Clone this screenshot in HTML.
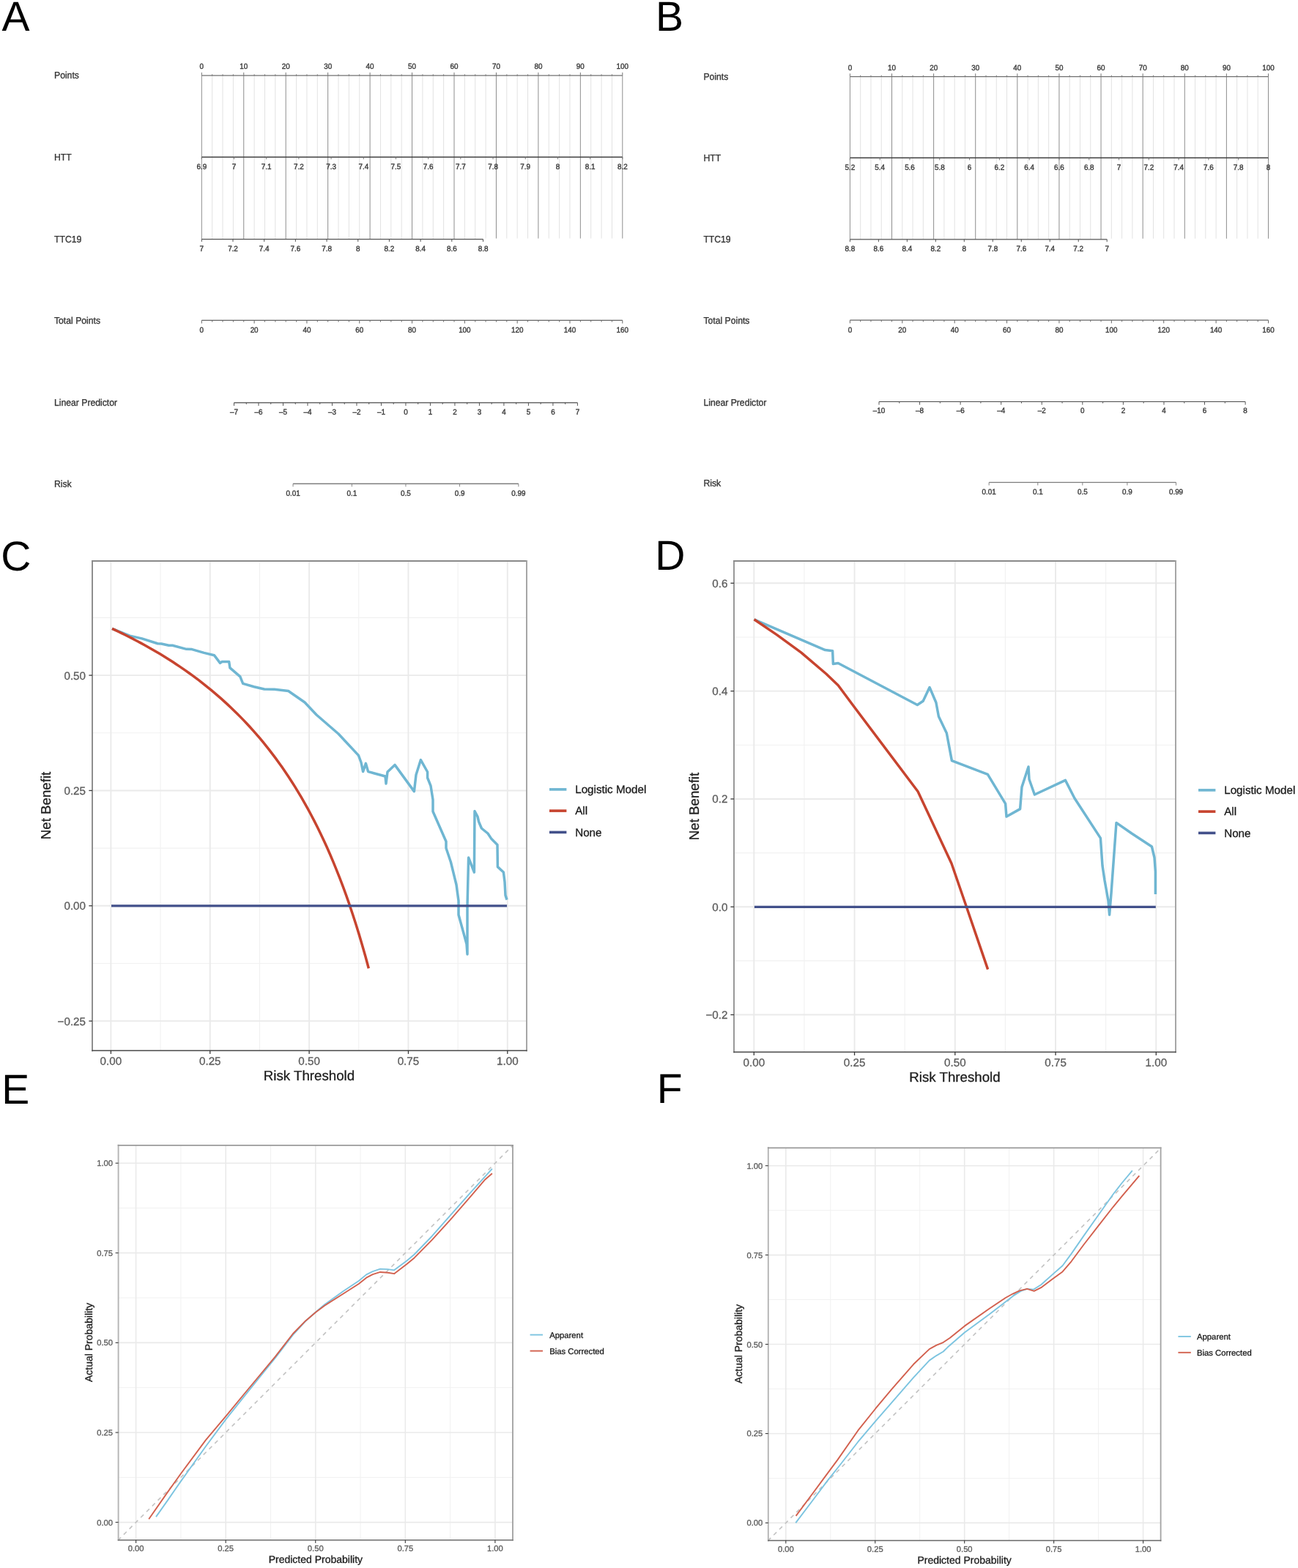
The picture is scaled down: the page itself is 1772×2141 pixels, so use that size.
<!DOCTYPE html>
<html lang="en">
<head>
<meta charset="utf-8">
<title>Nomogram, decision curve and calibration figure</title>
<style>
html,body{margin:0;padding:0;background:#fff;}
body{width:1772px;height:2141px;overflow:hidden;font-family:"Liberation Sans", Arial, Helvetica, sans-serif;}
svg{display:block;}
svg text{text-rendering:geometricPrecision;font-family:"Liberation Sans", Arial, Helvetica, sans-serif;}
</style>
</head>
<body>
<svg width="1772" height="2141" viewBox="0 0 1772 2141" font-family='"Liberation Sans", Arial, Helvetica, sans-serif'>
<rect width="1772" height="2141" fill="#fff"/>
<g id="panel-a">
<line x1="275.3" y1="103.2" x2="275.3" y2="326.6" stroke="#8e8e8e" stroke-width="1"/>
<line x1="289.66" y1="103.2" x2="289.66" y2="326.6" stroke="#e2e2e2" stroke-width="1"/>
<line x1="304.03" y1="103.2" x2="304.03" y2="326.6" stroke="#e2e2e2" stroke-width="1"/>
<line x1="318.39" y1="103.2" x2="318.39" y2="326.6" stroke="#e2e2e2" stroke-width="1"/>
<line x1="332.75" y1="103.2" x2="332.75" y2="326.6" stroke="#8e8e8e" stroke-width="1"/>
<line x1="347.11" y1="103.2" x2="347.11" y2="326.6" stroke="#e2e2e2" stroke-width="1"/>
<line x1="361.48" y1="103.2" x2="361.48" y2="326.6" stroke="#e2e2e2" stroke-width="1"/>
<line x1="375.84" y1="103.2" x2="375.84" y2="326.6" stroke="#e2e2e2" stroke-width="1"/>
<line x1="390.2" y1="103.2" x2="390.2" y2="326.6" stroke="#8e8e8e" stroke-width="1"/>
<line x1="404.56" y1="103.2" x2="404.56" y2="326.6" stroke="#e2e2e2" stroke-width="1"/>
<line x1="418.93" y1="103.2" x2="418.93" y2="326.6" stroke="#e2e2e2" stroke-width="1"/>
<line x1="433.29" y1="103.2" x2="433.29" y2="326.6" stroke="#e2e2e2" stroke-width="1"/>
<line x1="447.65" y1="103.2" x2="447.65" y2="326.6" stroke="#8e8e8e" stroke-width="1"/>
<line x1="462.01" y1="103.2" x2="462.01" y2="326.6" stroke="#e2e2e2" stroke-width="1"/>
<line x1="476.38" y1="103.2" x2="476.38" y2="326.6" stroke="#e2e2e2" stroke-width="1"/>
<line x1="490.74" y1="103.2" x2="490.74" y2="326.6" stroke="#e2e2e2" stroke-width="1"/>
<line x1="505.1" y1="103.2" x2="505.1" y2="326.6" stroke="#8e8e8e" stroke-width="1"/>
<line x1="519.46" y1="103.2" x2="519.46" y2="326.6" stroke="#e2e2e2" stroke-width="1"/>
<line x1="533.83" y1="103.2" x2="533.83" y2="326.6" stroke="#e2e2e2" stroke-width="1"/>
<line x1="548.19" y1="103.2" x2="548.19" y2="326.6" stroke="#e2e2e2" stroke-width="1"/>
<line x1="562.55" y1="103.2" x2="562.55" y2="326.6" stroke="#8e8e8e" stroke-width="1"/>
<line x1="576.91" y1="103.2" x2="576.91" y2="326.6" stroke="#e2e2e2" stroke-width="1"/>
<line x1="591.28" y1="103.2" x2="591.28" y2="326.6" stroke="#e2e2e2" stroke-width="1"/>
<line x1="605.64" y1="103.2" x2="605.64" y2="326.6" stroke="#e2e2e2" stroke-width="1"/>
<line x1="620" y1="103.2" x2="620" y2="326.6" stroke="#8e8e8e" stroke-width="1"/>
<line x1="634.36" y1="103.2" x2="634.36" y2="326.6" stroke="#e2e2e2" stroke-width="1"/>
<line x1="648.73" y1="103.2" x2="648.73" y2="326.6" stroke="#e2e2e2" stroke-width="1"/>
<line x1="663.09" y1="103.2" x2="663.09" y2="325.6" stroke="#e2e2e2" stroke-width="1"/>
<line x1="677.45" y1="103.2" x2="677.45" y2="325.6" stroke="#8e8e8e" stroke-width="1"/>
<line x1="691.81" y1="103.2" x2="691.81" y2="325.6" stroke="#e2e2e2" stroke-width="1"/>
<line x1="706.17" y1="103.2" x2="706.17" y2="325.6" stroke="#e2e2e2" stroke-width="1"/>
<line x1="720.54" y1="103.2" x2="720.54" y2="325.6" stroke="#e2e2e2" stroke-width="1"/>
<line x1="734.9" y1="103.2" x2="734.9" y2="325.6" stroke="#8e8e8e" stroke-width="1"/>
<line x1="749.26" y1="103.2" x2="749.26" y2="325.6" stroke="#e2e2e2" stroke-width="1"/>
<line x1="763.62" y1="103.2" x2="763.62" y2="325.6" stroke="#e2e2e2" stroke-width="1"/>
<line x1="777.99" y1="103.2" x2="777.99" y2="325.6" stroke="#e2e2e2" stroke-width="1"/>
<line x1="792.35" y1="103.2" x2="792.35" y2="325.6" stroke="#8e8e8e" stroke-width="1"/>
<line x1="806.71" y1="103.2" x2="806.71" y2="325.6" stroke="#e2e2e2" stroke-width="1"/>
<line x1="821.08" y1="103.2" x2="821.08" y2="325.6" stroke="#e2e2e2" stroke-width="1"/>
<line x1="835.44" y1="103.2" x2="835.44" y2="325.6" stroke="#e2e2e2" stroke-width="1"/>
<line x1="849.8" y1="103.2" x2="849.8" y2="325.6" stroke="#8e8e8e" stroke-width="1"/>
<text transform="translate(74 107.4) scale(1 1.06)" font-size="12.2" fill="#383838" text-anchor="start" stroke="#383838" stroke-width="0.35">Points</text>
<text transform="translate(74 218.6) scale(1 1.06)" font-size="12.2" fill="#383838" text-anchor="start" stroke="#383838" stroke-width="0.35">HTT</text>
<text transform="translate(74 330.8) scale(1 1.06)" font-size="12.2" fill="#383838" text-anchor="start" stroke="#383838" stroke-width="0.35">TTC19</text>
<text transform="translate(74 441.6) scale(1 1.06)" font-size="12.2" fill="#383838" text-anchor="start" stroke="#383838" stroke-width="0.35">Total Points</text>
<text transform="translate(74 553.8) scale(1 1.06)" font-size="12.2" fill="#383838" text-anchor="start" stroke="#383838" stroke-width="0.35">Linear Predictor</text>
<text transform="translate(74 665) scale(1 1.06)" font-size="12.2" fill="#383838" text-anchor="start" stroke="#383838" stroke-width="0.35">Risk</text>
<line x1="275.3" y1="103.2" x2="849.8" y2="103.2" stroke="#707070" stroke-width="1.3"/>
<line x1="275.3" y1="103.2" x2="275.3" y2="99" stroke="#777" stroke-width="1"/>
<text transform="translate(275.3 93.9) scale(1 1.06)" font-size="9.9" fill="#383838" text-anchor="middle" stroke="#383838" stroke-width="0.35">0</text>
<line x1="289.66" y1="103.2" x2="289.66" y2="101.4" stroke="#777" stroke-width="1"/>
<line x1="304.03" y1="103.2" x2="304.03" y2="101.4" stroke="#777" stroke-width="1"/>
<line x1="318.39" y1="103.2" x2="318.39" y2="101.4" stroke="#777" stroke-width="1"/>
<line x1="332.75" y1="103.2" x2="332.75" y2="99" stroke="#777" stroke-width="1"/>
<text transform="translate(332.75 93.9) scale(1 1.06)" font-size="9.9" fill="#383838" text-anchor="middle" stroke="#383838" stroke-width="0.35">10</text>
<line x1="347.11" y1="103.2" x2="347.11" y2="101.4" stroke="#777" stroke-width="1"/>
<line x1="361.48" y1="103.2" x2="361.48" y2="101.4" stroke="#777" stroke-width="1"/>
<line x1="375.84" y1="103.2" x2="375.84" y2="101.4" stroke="#777" stroke-width="1"/>
<line x1="390.2" y1="103.2" x2="390.2" y2="99" stroke="#777" stroke-width="1"/>
<text transform="translate(390.2 93.9) scale(1 1.06)" font-size="9.9" fill="#383838" text-anchor="middle" stroke="#383838" stroke-width="0.35">20</text>
<line x1="404.56" y1="103.2" x2="404.56" y2="101.4" stroke="#777" stroke-width="1"/>
<line x1="418.93" y1="103.2" x2="418.93" y2="101.4" stroke="#777" stroke-width="1"/>
<line x1="433.29" y1="103.2" x2="433.29" y2="101.4" stroke="#777" stroke-width="1"/>
<line x1="447.65" y1="103.2" x2="447.65" y2="99" stroke="#777" stroke-width="1"/>
<text transform="translate(447.65 93.9) scale(1 1.06)" font-size="9.9" fill="#383838" text-anchor="middle" stroke="#383838" stroke-width="0.35">30</text>
<line x1="462.01" y1="103.2" x2="462.01" y2="101.4" stroke="#777" stroke-width="1"/>
<line x1="476.38" y1="103.2" x2="476.38" y2="101.4" stroke="#777" stroke-width="1"/>
<line x1="490.74" y1="103.2" x2="490.74" y2="101.4" stroke="#777" stroke-width="1"/>
<line x1="505.1" y1="103.2" x2="505.1" y2="99" stroke="#777" stroke-width="1"/>
<text transform="translate(505.1 93.9) scale(1 1.06)" font-size="9.9" fill="#383838" text-anchor="middle" stroke="#383838" stroke-width="0.35">40</text>
<line x1="519.46" y1="103.2" x2="519.46" y2="101.4" stroke="#777" stroke-width="1"/>
<line x1="533.83" y1="103.2" x2="533.83" y2="101.4" stroke="#777" stroke-width="1"/>
<line x1="548.19" y1="103.2" x2="548.19" y2="101.4" stroke="#777" stroke-width="1"/>
<line x1="562.55" y1="103.2" x2="562.55" y2="99" stroke="#777" stroke-width="1"/>
<text transform="translate(562.55 93.9) scale(1 1.06)" font-size="9.9" fill="#383838" text-anchor="middle" stroke="#383838" stroke-width="0.35">50</text>
<line x1="576.91" y1="103.2" x2="576.91" y2="101.4" stroke="#777" stroke-width="1"/>
<line x1="591.28" y1="103.2" x2="591.28" y2="101.4" stroke="#777" stroke-width="1"/>
<line x1="605.64" y1="103.2" x2="605.64" y2="101.4" stroke="#777" stroke-width="1"/>
<line x1="620" y1="103.2" x2="620" y2="99" stroke="#777" stroke-width="1"/>
<text transform="translate(620 93.9) scale(1 1.06)" font-size="9.9" fill="#383838" text-anchor="middle" stroke="#383838" stroke-width="0.35">60</text>
<line x1="634.36" y1="103.2" x2="634.36" y2="101.4" stroke="#777" stroke-width="1"/>
<line x1="648.73" y1="103.2" x2="648.73" y2="101.4" stroke="#777" stroke-width="1"/>
<line x1="663.09" y1="103.2" x2="663.09" y2="101.4" stroke="#777" stroke-width="1"/>
<line x1="677.45" y1="103.2" x2="677.45" y2="99" stroke="#777" stroke-width="1"/>
<text transform="translate(677.45 93.9) scale(1 1.06)" font-size="9.9" fill="#383838" text-anchor="middle" stroke="#383838" stroke-width="0.35">70</text>
<line x1="691.81" y1="103.2" x2="691.81" y2="101.4" stroke="#777" stroke-width="1"/>
<line x1="706.17" y1="103.2" x2="706.17" y2="101.4" stroke="#777" stroke-width="1"/>
<line x1="720.54" y1="103.2" x2="720.54" y2="101.4" stroke="#777" stroke-width="1"/>
<line x1="734.9" y1="103.2" x2="734.9" y2="99" stroke="#777" stroke-width="1"/>
<text transform="translate(734.9 93.9) scale(1 1.06)" font-size="9.9" fill="#383838" text-anchor="middle" stroke="#383838" stroke-width="0.35">80</text>
<line x1="749.26" y1="103.2" x2="749.26" y2="101.4" stroke="#777" stroke-width="1"/>
<line x1="763.62" y1="103.2" x2="763.62" y2="101.4" stroke="#777" stroke-width="1"/>
<line x1="777.99" y1="103.2" x2="777.99" y2="101.4" stroke="#777" stroke-width="1"/>
<line x1="792.35" y1="103.2" x2="792.35" y2="99" stroke="#777" stroke-width="1"/>
<text transform="translate(792.35 93.9) scale(1 1.06)" font-size="9.9" fill="#383838" text-anchor="middle" stroke="#383838" stroke-width="0.35">90</text>
<line x1="806.71" y1="103.2" x2="806.71" y2="101.4" stroke="#777" stroke-width="1"/>
<line x1="821.08" y1="103.2" x2="821.08" y2="101.4" stroke="#777" stroke-width="1"/>
<line x1="835.44" y1="103.2" x2="835.44" y2="101.4" stroke="#777" stroke-width="1"/>
<line x1="849.8" y1="103.2" x2="849.8" y2="99" stroke="#777" stroke-width="1"/>
<text transform="translate(849.8 93.9) scale(1 1.06)" font-size="9.9" fill="#383838" text-anchor="middle" stroke="#383838" stroke-width="0.35">100</text>
<line x1="275.3" y1="214.4" x2="849.8" y2="214.4" stroke="#3c3c3c" stroke-width="1.5"/>
<line x1="275.3" y1="214.4" x2="275.3" y2="217.4" stroke="#777" stroke-width="1"/>
<text transform="translate(275.3 230.6) scale(1 1.06)" font-size="9.9" fill="#383838" text-anchor="middle" stroke="#383838" stroke-width="0.35">6.9</text>
<line x1="319.49" y1="214.4" x2="319.49" y2="217.4" stroke="#777" stroke-width="1"/>
<text transform="translate(319.49 230.6) scale(1 1.06)" font-size="9.9" fill="#383838" text-anchor="middle" stroke="#383838" stroke-width="0.35">7</text>
<line x1="363.68" y1="214.4" x2="363.68" y2="217.4" stroke="#777" stroke-width="1"/>
<text transform="translate(363.68 230.6) scale(1 1.06)" font-size="9.9" fill="#383838" text-anchor="middle" stroke="#383838" stroke-width="0.35">7.1</text>
<line x1="407.88" y1="214.4" x2="407.88" y2="217.4" stroke="#777" stroke-width="1"/>
<text transform="translate(407.88 230.6) scale(1 1.06)" font-size="9.9" fill="#383838" text-anchor="middle" stroke="#383838" stroke-width="0.35">7.2</text>
<line x1="452.07" y1="214.4" x2="452.07" y2="217.4" stroke="#777" stroke-width="1"/>
<text transform="translate(452.07 230.6) scale(1 1.06)" font-size="9.9" fill="#383838" text-anchor="middle" stroke="#383838" stroke-width="0.35">7.3</text>
<line x1="496.26" y1="214.4" x2="496.26" y2="217.4" stroke="#777" stroke-width="1"/>
<text transform="translate(496.26 230.6) scale(1 1.06)" font-size="9.9" fill="#383838" text-anchor="middle" stroke="#383838" stroke-width="0.35">7.4</text>
<line x1="540.45" y1="214.4" x2="540.45" y2="217.4" stroke="#777" stroke-width="1"/>
<text transform="translate(540.45 230.6) scale(1 1.06)" font-size="9.9" fill="#383838" text-anchor="middle" stroke="#383838" stroke-width="0.35">7.5</text>
<line x1="584.65" y1="214.4" x2="584.65" y2="217.4" stroke="#777" stroke-width="1"/>
<text transform="translate(584.65 230.6) scale(1 1.06)" font-size="9.9" fill="#383838" text-anchor="middle" stroke="#383838" stroke-width="0.35">7.6</text>
<line x1="628.84" y1="214.4" x2="628.84" y2="217.4" stroke="#777" stroke-width="1"/>
<text transform="translate(628.84 230.6) scale(1 1.06)" font-size="9.9" fill="#383838" text-anchor="middle" stroke="#383838" stroke-width="0.35">7.7</text>
<line x1="673.03" y1="214.4" x2="673.03" y2="217.4" stroke="#777" stroke-width="1"/>
<text transform="translate(673.03 230.6) scale(1 1.06)" font-size="9.9" fill="#383838" text-anchor="middle" stroke="#383838" stroke-width="0.35">7.8</text>
<line x1="717.22" y1="214.4" x2="717.22" y2="217.4" stroke="#777" stroke-width="1"/>
<text transform="translate(717.22 230.6) scale(1 1.06)" font-size="9.9" fill="#383838" text-anchor="middle" stroke="#383838" stroke-width="0.35">7.9</text>
<line x1="761.42" y1="214.4" x2="761.42" y2="217.4" stroke="#777" stroke-width="1"/>
<text transform="translate(761.42 230.6) scale(1 1.06)" font-size="9.9" fill="#383838" text-anchor="middle" stroke="#383838" stroke-width="0.35">8</text>
<line x1="805.61" y1="214.4" x2="805.61" y2="217.4" stroke="#777" stroke-width="1"/>
<text transform="translate(805.61 230.6) scale(1 1.06)" font-size="9.9" fill="#383838" text-anchor="middle" stroke="#383838" stroke-width="0.35">8.1</text>
<line x1="849.8" y1="214.4" x2="849.8" y2="217.4" stroke="#777" stroke-width="1"/>
<text transform="translate(849.8 230.6) scale(1 1.06)" font-size="9.9" fill="#383838" text-anchor="middle" stroke="#383838" stroke-width="0.35">8.2</text>
<line x1="275.3" y1="326.6" x2="659.5" y2="326.6" stroke="#555" stroke-width="1.2"/>
<line x1="275.3" y1="326.6" x2="275.3" y2="330.1" stroke="#555" stroke-width="1"/>
<text transform="translate(275.3 342.8) scale(1 1.06)" font-size="9.9" fill="#383838" text-anchor="middle" stroke="#383838" stroke-width="0.35">7</text>
<line x1="317.99" y1="326.6" x2="317.99" y2="330.1" stroke="#555" stroke-width="1"/>
<text transform="translate(317.99 342.8) scale(1 1.06)" font-size="9.9" fill="#383838" text-anchor="middle" stroke="#383838" stroke-width="0.35">7.2</text>
<line x1="360.68" y1="326.6" x2="360.68" y2="330.1" stroke="#555" stroke-width="1"/>
<text transform="translate(360.68 342.8) scale(1 1.06)" font-size="9.9" fill="#383838" text-anchor="middle" stroke="#383838" stroke-width="0.35">7.4</text>
<line x1="403.37" y1="326.6" x2="403.37" y2="330.1" stroke="#555" stroke-width="1"/>
<text transform="translate(403.37 342.8) scale(1 1.06)" font-size="9.9" fill="#383838" text-anchor="middle" stroke="#383838" stroke-width="0.35">7.6</text>
<line x1="446.06" y1="326.6" x2="446.06" y2="330.1" stroke="#555" stroke-width="1"/>
<text transform="translate(446.06 342.8) scale(1 1.06)" font-size="9.9" fill="#383838" text-anchor="middle" stroke="#383838" stroke-width="0.35">7.8</text>
<line x1="488.74" y1="326.6" x2="488.74" y2="330.1" stroke="#555" stroke-width="1"/>
<text transform="translate(488.74 342.8) scale(1 1.06)" font-size="9.9" fill="#383838" text-anchor="middle" stroke="#383838" stroke-width="0.35">8</text>
<line x1="531.43" y1="326.6" x2="531.43" y2="330.1" stroke="#555" stroke-width="1"/>
<text transform="translate(531.43 342.8) scale(1 1.06)" font-size="9.9" fill="#383838" text-anchor="middle" stroke="#383838" stroke-width="0.35">8.2</text>
<line x1="574.12" y1="326.6" x2="574.12" y2="330.1" stroke="#555" stroke-width="1"/>
<text transform="translate(574.12 342.8) scale(1 1.06)" font-size="9.9" fill="#383838" text-anchor="middle" stroke="#383838" stroke-width="0.35">8.4</text>
<line x1="616.81" y1="326.6" x2="616.81" y2="330.1" stroke="#555" stroke-width="1"/>
<text transform="translate(616.81 342.8) scale(1 1.06)" font-size="9.9" fill="#383838" text-anchor="middle" stroke="#383838" stroke-width="0.35">8.6</text>
<line x1="659.5" y1="326.6" x2="659.5" y2="330.1" stroke="#555" stroke-width="1"/>
<text transform="translate(659.5 342.8) scale(1 1.06)" font-size="9.9" fill="#383838" text-anchor="middle" stroke="#383838" stroke-width="0.35">8.8</text>
<line x1="275.3" y1="437.4" x2="849.8" y2="437.4" stroke="#666" stroke-width="1.2"/>
<line x1="275.3" y1="437.4" x2="275.3" y2="441.6" stroke="#666" stroke-width="1"/>
<text transform="translate(275.3 454.4) scale(1 1.06)" font-size="9.9" fill="#383838" text-anchor="middle" stroke="#383838" stroke-width="0.35">0</text>
<line x1="289.66" y1="437.4" x2="289.66" y2="439.6" stroke="#666" stroke-width="1"/>
<line x1="304.03" y1="437.4" x2="304.03" y2="439.6" stroke="#666" stroke-width="1"/>
<line x1="318.39" y1="437.4" x2="318.39" y2="439.6" stroke="#666" stroke-width="1"/>
<line x1="332.75" y1="437.4" x2="332.75" y2="439.6" stroke="#666" stroke-width="1"/>
<line x1="347.11" y1="437.4" x2="347.11" y2="441.6" stroke="#666" stroke-width="1"/>
<text transform="translate(347.11 454.4) scale(1 1.06)" font-size="9.9" fill="#383838" text-anchor="middle" stroke="#383838" stroke-width="0.35">20</text>
<line x1="361.48" y1="437.4" x2="361.48" y2="439.6" stroke="#666" stroke-width="1"/>
<line x1="375.84" y1="437.4" x2="375.84" y2="439.6" stroke="#666" stroke-width="1"/>
<line x1="390.2" y1="437.4" x2="390.2" y2="439.6" stroke="#666" stroke-width="1"/>
<line x1="404.56" y1="437.4" x2="404.56" y2="439.6" stroke="#666" stroke-width="1"/>
<line x1="418.93" y1="437.4" x2="418.93" y2="441.6" stroke="#666" stroke-width="1"/>
<text transform="translate(418.93 454.4) scale(1 1.06)" font-size="9.9" fill="#383838" text-anchor="middle" stroke="#383838" stroke-width="0.35">40</text>
<line x1="433.29" y1="437.4" x2="433.29" y2="439.6" stroke="#666" stroke-width="1"/>
<line x1="447.65" y1="437.4" x2="447.65" y2="439.6" stroke="#666" stroke-width="1"/>
<line x1="462.01" y1="437.4" x2="462.01" y2="439.6" stroke="#666" stroke-width="1"/>
<line x1="476.38" y1="437.4" x2="476.38" y2="439.6" stroke="#666" stroke-width="1"/>
<line x1="490.74" y1="437.4" x2="490.74" y2="441.6" stroke="#666" stroke-width="1"/>
<text transform="translate(490.74 454.4) scale(1 1.06)" font-size="9.9" fill="#383838" text-anchor="middle" stroke="#383838" stroke-width="0.35">60</text>
<line x1="505.1" y1="437.4" x2="505.1" y2="439.6" stroke="#666" stroke-width="1"/>
<line x1="519.46" y1="437.4" x2="519.46" y2="439.6" stroke="#666" stroke-width="1"/>
<line x1="533.83" y1="437.4" x2="533.83" y2="439.6" stroke="#666" stroke-width="1"/>
<line x1="548.19" y1="437.4" x2="548.19" y2="439.6" stroke="#666" stroke-width="1"/>
<line x1="562.55" y1="437.4" x2="562.55" y2="441.6" stroke="#666" stroke-width="1"/>
<text transform="translate(562.55 454.4) scale(1 1.06)" font-size="9.9" fill="#383838" text-anchor="middle" stroke="#383838" stroke-width="0.35">80</text>
<line x1="576.91" y1="437.4" x2="576.91" y2="439.6" stroke="#666" stroke-width="1"/>
<line x1="591.28" y1="437.4" x2="591.28" y2="439.6" stroke="#666" stroke-width="1"/>
<line x1="605.64" y1="437.4" x2="605.64" y2="439.6" stroke="#666" stroke-width="1"/>
<line x1="620" y1="437.4" x2="620" y2="439.6" stroke="#666" stroke-width="1"/>
<line x1="634.36" y1="437.4" x2="634.36" y2="441.6" stroke="#666" stroke-width="1"/>
<text transform="translate(634.36 454.4) scale(1 1.06)" font-size="9.9" fill="#383838" text-anchor="middle" stroke="#383838" stroke-width="0.35">100</text>
<line x1="648.73" y1="437.4" x2="648.73" y2="439.6" stroke="#666" stroke-width="1"/>
<line x1="663.09" y1="437.4" x2="663.09" y2="439.6" stroke="#666" stroke-width="1"/>
<line x1="677.45" y1="437.4" x2="677.45" y2="439.6" stroke="#666" stroke-width="1"/>
<line x1="691.81" y1="437.4" x2="691.81" y2="439.6" stroke="#666" stroke-width="1"/>
<line x1="706.17" y1="437.4" x2="706.17" y2="441.6" stroke="#666" stroke-width="1"/>
<text transform="translate(706.17 454.4) scale(1 1.06)" font-size="9.9" fill="#383838" text-anchor="middle" stroke="#383838" stroke-width="0.35">120</text>
<line x1="720.54" y1="437.4" x2="720.54" y2="439.6" stroke="#666" stroke-width="1"/>
<line x1="734.9" y1="437.4" x2="734.9" y2="439.6" stroke="#666" stroke-width="1"/>
<line x1="749.26" y1="437.4" x2="749.26" y2="439.6" stroke="#666" stroke-width="1"/>
<line x1="763.62" y1="437.4" x2="763.62" y2="439.6" stroke="#666" stroke-width="1"/>
<line x1="777.99" y1="437.4" x2="777.99" y2="441.6" stroke="#666" stroke-width="1"/>
<text transform="translate(777.99 454.4) scale(1 1.06)" font-size="9.9" fill="#383838" text-anchor="middle" stroke="#383838" stroke-width="0.35">140</text>
<line x1="792.35" y1="437.4" x2="792.35" y2="439.6" stroke="#666" stroke-width="1"/>
<line x1="806.71" y1="437.4" x2="806.71" y2="439.6" stroke="#666" stroke-width="1"/>
<line x1="821.08" y1="437.4" x2="821.08" y2="439.6" stroke="#666" stroke-width="1"/>
<line x1="835.44" y1="437.4" x2="835.44" y2="439.6" stroke="#666" stroke-width="1"/>
<line x1="849.8" y1="437.4" x2="849.8" y2="441.6" stroke="#666" stroke-width="1"/>
<text transform="translate(849.8 454.4) scale(1 1.06)" font-size="9.9" fill="#383838" text-anchor="middle" stroke="#383838" stroke-width="0.35">160</text>
<line x1="319.5" y1="549.9" x2="788.4" y2="549.9" stroke="#4a4a4a" stroke-width="1.2"/>
<line x1="319.5" y1="549.9" x2="319.5" y2="554.1" stroke="#555" stroke-width="1"/>
<text transform="translate(319.5 566) scale(1 1.06)" font-size="9.9" fill="#383838" text-anchor="middle" stroke="#383838" stroke-width="0.35">–7</text>
<line x1="336.25" y1="549.9" x2="336.25" y2="552.1" stroke="#555" stroke-width="1"/>
<line x1="352.99" y1="549.9" x2="352.99" y2="554.1" stroke="#555" stroke-width="1"/>
<text transform="translate(352.99 566) scale(1 1.06)" font-size="9.9" fill="#383838" text-anchor="middle" stroke="#383838" stroke-width="0.35">–6</text>
<line x1="369.74" y1="549.9" x2="369.74" y2="552.1" stroke="#555" stroke-width="1"/>
<line x1="386.49" y1="549.9" x2="386.49" y2="554.1" stroke="#555" stroke-width="1"/>
<text transform="translate(386.49 566) scale(1 1.06)" font-size="9.9" fill="#383838" text-anchor="middle" stroke="#383838" stroke-width="0.35">–5</text>
<line x1="403.23" y1="549.9" x2="403.23" y2="552.1" stroke="#555" stroke-width="1"/>
<line x1="419.98" y1="549.9" x2="419.98" y2="554.1" stroke="#555" stroke-width="1"/>
<text transform="translate(419.98 566) scale(1 1.06)" font-size="9.9" fill="#383838" text-anchor="middle" stroke="#383838" stroke-width="0.35">–4</text>
<line x1="436.73" y1="549.9" x2="436.73" y2="552.1" stroke="#555" stroke-width="1"/>
<line x1="453.47" y1="549.9" x2="453.47" y2="554.1" stroke="#555" stroke-width="1"/>
<text transform="translate(453.47 566) scale(1 1.06)" font-size="9.9" fill="#383838" text-anchor="middle" stroke="#383838" stroke-width="0.35">–3</text>
<line x1="470.22" y1="549.9" x2="470.22" y2="552.1" stroke="#555" stroke-width="1"/>
<line x1="486.96" y1="549.9" x2="486.96" y2="554.1" stroke="#555" stroke-width="1"/>
<text transform="translate(486.96 566) scale(1 1.06)" font-size="9.9" fill="#383838" text-anchor="middle" stroke="#383838" stroke-width="0.35">–2</text>
<line x1="503.71" y1="549.9" x2="503.71" y2="552.1" stroke="#555" stroke-width="1"/>
<line x1="520.46" y1="549.9" x2="520.46" y2="554.1" stroke="#555" stroke-width="1"/>
<text transform="translate(520.46 566) scale(1 1.06)" font-size="9.9" fill="#383838" text-anchor="middle" stroke="#383838" stroke-width="0.35">–1</text>
<line x1="537.2" y1="549.9" x2="537.2" y2="552.1" stroke="#555" stroke-width="1"/>
<line x1="553.95" y1="549.9" x2="553.95" y2="554.1" stroke="#555" stroke-width="1"/>
<text transform="translate(553.95 566) scale(1 1.06)" font-size="9.9" fill="#383838" text-anchor="middle" stroke="#383838" stroke-width="0.35">0</text>
<line x1="570.7" y1="549.9" x2="570.7" y2="552.1" stroke="#555" stroke-width="1"/>
<line x1="587.44" y1="549.9" x2="587.44" y2="554.1" stroke="#555" stroke-width="1"/>
<text transform="translate(587.44 566) scale(1 1.06)" font-size="9.9" fill="#383838" text-anchor="middle" stroke="#383838" stroke-width="0.35">1</text>
<line x1="604.19" y1="549.9" x2="604.19" y2="552.1" stroke="#555" stroke-width="1"/>
<line x1="620.94" y1="549.9" x2="620.94" y2="554.1" stroke="#555" stroke-width="1"/>
<text transform="translate(620.94 566) scale(1 1.06)" font-size="9.9" fill="#383838" text-anchor="middle" stroke="#383838" stroke-width="0.35">2</text>
<line x1="637.68" y1="549.9" x2="637.68" y2="552.1" stroke="#555" stroke-width="1"/>
<line x1="654.43" y1="549.9" x2="654.43" y2="554.1" stroke="#555" stroke-width="1"/>
<text transform="translate(654.43 566) scale(1 1.06)" font-size="9.9" fill="#383838" text-anchor="middle" stroke="#383838" stroke-width="0.35">3</text>
<line x1="671.17" y1="549.9" x2="671.17" y2="552.1" stroke="#555" stroke-width="1"/>
<line x1="687.92" y1="549.9" x2="687.92" y2="554.1" stroke="#555" stroke-width="1"/>
<text transform="translate(687.92 566) scale(1 1.06)" font-size="9.9" fill="#383838" text-anchor="middle" stroke="#383838" stroke-width="0.35">4</text>
<line x1="704.67" y1="549.9" x2="704.67" y2="552.1" stroke="#555" stroke-width="1"/>
<line x1="721.41" y1="549.9" x2="721.41" y2="554.1" stroke="#555" stroke-width="1"/>
<text transform="translate(721.41 566) scale(1 1.06)" font-size="9.9" fill="#383838" text-anchor="middle" stroke="#383838" stroke-width="0.35">5</text>
<line x1="738.16" y1="549.9" x2="738.16" y2="552.1" stroke="#555" stroke-width="1"/>
<line x1="754.91" y1="549.9" x2="754.91" y2="554.1" stroke="#555" stroke-width="1"/>
<text transform="translate(754.91 566) scale(1 1.06)" font-size="9.9" fill="#383838" text-anchor="middle" stroke="#383838" stroke-width="0.35">6</text>
<line x1="771.65" y1="549.9" x2="771.65" y2="552.1" stroke="#555" stroke-width="1"/>
<line x1="788.4" y1="549.9" x2="788.4" y2="554.1" stroke="#555" stroke-width="1"/>
<text transform="translate(788.4 566) scale(1 1.06)" font-size="9.9" fill="#383838" text-anchor="middle" stroke="#383838" stroke-width="0.35">7</text>
<line x1="400.05" y1="660.5" x2="707.85" y2="660.5" stroke="#7c7c7c" stroke-width="1.3"/>
<line x1="400.05" y1="660.5" x2="400.05" y2="664.5" stroke="#888" stroke-width="1"/>
<text transform="translate(400.05 677.1) scale(1 1.06)" font-size="9.9" fill="#383838" text-anchor="middle" stroke="#383838" stroke-width="0.35">0.01</text>
<line x1="480.36" y1="660.5" x2="480.36" y2="664.5" stroke="#888" stroke-width="1"/>
<text transform="translate(480.36 677.1) scale(1 1.06)" font-size="9.9" fill="#383838" text-anchor="middle" stroke="#383838" stroke-width="0.35">0.1</text>
<line x1="553.95" y1="660.5" x2="553.95" y2="664.5" stroke="#888" stroke-width="1"/>
<text transform="translate(553.95 677.1) scale(1 1.06)" font-size="9.9" fill="#383838" text-anchor="middle" stroke="#383838" stroke-width="0.35">0.5</text>
<line x1="627.54" y1="660.5" x2="627.54" y2="664.5" stroke="#888" stroke-width="1"/>
<text transform="translate(627.54 677.1) scale(1 1.06)" font-size="9.9" fill="#383838" text-anchor="middle" stroke="#383838" stroke-width="0.35">0.9</text>
<line x1="707.85" y1="660.5" x2="707.85" y2="664.5" stroke="#888" stroke-width="1"/>
<text transform="translate(707.85 677.1) scale(1 1.06)" font-size="9.9" fill="#383838" text-anchor="middle" stroke="#383838" stroke-width="0.35">0.99</text>
</g>
<g id="panel-b">
<line x1="1160.4" y1="104.6" x2="1160.4" y2="326.8" stroke="#8e8e8e" stroke-width="1"/>
<line x1="1174.68" y1="104.6" x2="1174.68" y2="326.8" stroke="#e2e2e2" stroke-width="1"/>
<line x1="1188.96" y1="104.6" x2="1188.96" y2="326.8" stroke="#e2e2e2" stroke-width="1"/>
<line x1="1203.23" y1="104.6" x2="1203.23" y2="326.8" stroke="#e2e2e2" stroke-width="1"/>
<line x1="1217.51" y1="104.6" x2="1217.51" y2="326.8" stroke="#8e8e8e" stroke-width="1"/>
<line x1="1231.79" y1="104.6" x2="1231.79" y2="326.8" stroke="#e2e2e2" stroke-width="1"/>
<line x1="1246.07" y1="104.6" x2="1246.07" y2="326.8" stroke="#e2e2e2" stroke-width="1"/>
<line x1="1260.34" y1="104.6" x2="1260.34" y2="326.8" stroke="#e2e2e2" stroke-width="1"/>
<line x1="1274.62" y1="104.6" x2="1274.62" y2="326.8" stroke="#8e8e8e" stroke-width="1"/>
<line x1="1288.9" y1="104.6" x2="1288.9" y2="326.8" stroke="#e2e2e2" stroke-width="1"/>
<line x1="1303.18" y1="104.6" x2="1303.18" y2="326.8" stroke="#e2e2e2" stroke-width="1"/>
<line x1="1317.45" y1="104.6" x2="1317.45" y2="326.8" stroke="#e2e2e2" stroke-width="1"/>
<line x1="1331.73" y1="104.6" x2="1331.73" y2="326.8" stroke="#8e8e8e" stroke-width="1"/>
<line x1="1346.01" y1="104.6" x2="1346.01" y2="326.8" stroke="#e2e2e2" stroke-width="1"/>
<line x1="1360.29" y1="104.6" x2="1360.29" y2="326.8" stroke="#e2e2e2" stroke-width="1"/>
<line x1="1374.56" y1="104.6" x2="1374.56" y2="326.8" stroke="#e2e2e2" stroke-width="1"/>
<line x1="1388.84" y1="104.6" x2="1388.84" y2="326.8" stroke="#8e8e8e" stroke-width="1"/>
<line x1="1403.12" y1="104.6" x2="1403.12" y2="326.8" stroke="#e2e2e2" stroke-width="1"/>
<line x1="1417.39" y1="104.6" x2="1417.39" y2="326.8" stroke="#e2e2e2" stroke-width="1"/>
<line x1="1431.67" y1="104.6" x2="1431.67" y2="326.8" stroke="#e2e2e2" stroke-width="1"/>
<line x1="1445.95" y1="104.6" x2="1445.95" y2="326.8" stroke="#8e8e8e" stroke-width="1"/>
<line x1="1460.23" y1="104.6" x2="1460.23" y2="326.8" stroke="#e2e2e2" stroke-width="1"/>
<line x1="1474.51" y1="104.6" x2="1474.51" y2="326.8" stroke="#e2e2e2" stroke-width="1"/>
<line x1="1488.78" y1="104.6" x2="1488.78" y2="326.8" stroke="#e2e2e2" stroke-width="1"/>
<line x1="1503.06" y1="104.6" x2="1503.06" y2="326.8" stroke="#8e8e8e" stroke-width="1"/>
<line x1="1517.34" y1="104.6" x2="1517.34" y2="325.8" stroke="#e2e2e2" stroke-width="1"/>
<line x1="1531.62" y1="104.6" x2="1531.62" y2="325.8" stroke="#e2e2e2" stroke-width="1"/>
<line x1="1545.89" y1="104.6" x2="1545.89" y2="325.8" stroke="#e2e2e2" stroke-width="1"/>
<line x1="1560.17" y1="104.6" x2="1560.17" y2="325.8" stroke="#8e8e8e" stroke-width="1"/>
<line x1="1574.45" y1="104.6" x2="1574.45" y2="325.8" stroke="#e2e2e2" stroke-width="1"/>
<line x1="1588.72" y1="104.6" x2="1588.72" y2="325.8" stroke="#e2e2e2" stroke-width="1"/>
<line x1="1603" y1="104.6" x2="1603" y2="325.8" stroke="#e2e2e2" stroke-width="1"/>
<line x1="1617.28" y1="104.6" x2="1617.28" y2="325.8" stroke="#8e8e8e" stroke-width="1"/>
<line x1="1631.56" y1="104.6" x2="1631.56" y2="325.8" stroke="#e2e2e2" stroke-width="1"/>
<line x1="1645.84" y1="104.6" x2="1645.84" y2="325.8" stroke="#e2e2e2" stroke-width="1"/>
<line x1="1660.11" y1="104.6" x2="1660.11" y2="325.8" stroke="#e2e2e2" stroke-width="1"/>
<line x1="1674.39" y1="104.6" x2="1674.39" y2="325.8" stroke="#8e8e8e" stroke-width="1"/>
<line x1="1688.67" y1="104.6" x2="1688.67" y2="325.8" stroke="#e2e2e2" stroke-width="1"/>
<line x1="1702.94" y1="104.6" x2="1702.94" y2="325.8" stroke="#e2e2e2" stroke-width="1"/>
<line x1="1717.22" y1="104.6" x2="1717.22" y2="325.8" stroke="#e2e2e2" stroke-width="1"/>
<line x1="1731.5" y1="104.6" x2="1731.5" y2="325.8" stroke="#8e8e8e" stroke-width="1"/>
<text transform="translate(960.4 109.2) scale(1 1.06)" font-size="12.2" fill="#383838" text-anchor="start" stroke="#383838" stroke-width="0.35">Points</text>
<text transform="translate(960.4 219.8) scale(1 1.06)" font-size="12.2" fill="#383838" text-anchor="start" stroke="#383838" stroke-width="0.35">HTT</text>
<text transform="translate(960.4 330.6) scale(1 1.06)" font-size="12.2" fill="#383838" text-anchor="start" stroke="#383838" stroke-width="0.35">TTC19</text>
<text transform="translate(960.4 442) scale(1 1.06)" font-size="12.2" fill="#383838" text-anchor="start" stroke="#383838" stroke-width="0.35">Total Points</text>
<text transform="translate(960.4 553.7) scale(1 1.06)" font-size="12.2" fill="#383838" text-anchor="start" stroke="#383838" stroke-width="0.35">Linear Predictor</text>
<text transform="translate(960.4 663.5) scale(1 1.06)" font-size="12.2" fill="#383838" text-anchor="start" stroke="#383838" stroke-width="0.35">Risk</text>
<line x1="1160.4" y1="104.6" x2="1731.5" y2="104.6" stroke="#707070" stroke-width="1.3"/>
<line x1="1160.4" y1="104.6" x2="1160.4" y2="100.4" stroke="#777" stroke-width="1"/>
<text transform="translate(1160.4 96.2) scale(1 1.06)" font-size="9.9" fill="#383838" text-anchor="middle" stroke="#383838" stroke-width="0.35">0</text>
<line x1="1174.68" y1="104.6" x2="1174.68" y2="102.8" stroke="#777" stroke-width="1"/>
<line x1="1188.96" y1="104.6" x2="1188.96" y2="102.8" stroke="#777" stroke-width="1"/>
<line x1="1203.23" y1="104.6" x2="1203.23" y2="102.8" stroke="#777" stroke-width="1"/>
<line x1="1217.51" y1="104.6" x2="1217.51" y2="100.4" stroke="#777" stroke-width="1"/>
<text transform="translate(1217.51 96.2) scale(1 1.06)" font-size="9.9" fill="#383838" text-anchor="middle" stroke="#383838" stroke-width="0.35">10</text>
<line x1="1231.79" y1="104.6" x2="1231.79" y2="102.8" stroke="#777" stroke-width="1"/>
<line x1="1246.07" y1="104.6" x2="1246.07" y2="102.8" stroke="#777" stroke-width="1"/>
<line x1="1260.34" y1="104.6" x2="1260.34" y2="102.8" stroke="#777" stroke-width="1"/>
<line x1="1274.62" y1="104.6" x2="1274.62" y2="100.4" stroke="#777" stroke-width="1"/>
<text transform="translate(1274.62 96.2) scale(1 1.06)" font-size="9.9" fill="#383838" text-anchor="middle" stroke="#383838" stroke-width="0.35">20</text>
<line x1="1288.9" y1="104.6" x2="1288.9" y2="102.8" stroke="#777" stroke-width="1"/>
<line x1="1303.18" y1="104.6" x2="1303.18" y2="102.8" stroke="#777" stroke-width="1"/>
<line x1="1317.45" y1="104.6" x2="1317.45" y2="102.8" stroke="#777" stroke-width="1"/>
<line x1="1331.73" y1="104.6" x2="1331.73" y2="100.4" stroke="#777" stroke-width="1"/>
<text transform="translate(1331.73 96.2) scale(1 1.06)" font-size="9.9" fill="#383838" text-anchor="middle" stroke="#383838" stroke-width="0.35">30</text>
<line x1="1346.01" y1="104.6" x2="1346.01" y2="102.8" stroke="#777" stroke-width="1"/>
<line x1="1360.29" y1="104.6" x2="1360.29" y2="102.8" stroke="#777" stroke-width="1"/>
<line x1="1374.56" y1="104.6" x2="1374.56" y2="102.8" stroke="#777" stroke-width="1"/>
<line x1="1388.84" y1="104.6" x2="1388.84" y2="100.4" stroke="#777" stroke-width="1"/>
<text transform="translate(1388.84 96.2) scale(1 1.06)" font-size="9.9" fill="#383838" text-anchor="middle" stroke="#383838" stroke-width="0.35">40</text>
<line x1="1403.12" y1="104.6" x2="1403.12" y2="102.8" stroke="#777" stroke-width="1"/>
<line x1="1417.39" y1="104.6" x2="1417.39" y2="102.8" stroke="#777" stroke-width="1"/>
<line x1="1431.67" y1="104.6" x2="1431.67" y2="102.8" stroke="#777" stroke-width="1"/>
<line x1="1445.95" y1="104.6" x2="1445.95" y2="100.4" stroke="#777" stroke-width="1"/>
<text transform="translate(1445.95 96.2) scale(1 1.06)" font-size="9.9" fill="#383838" text-anchor="middle" stroke="#383838" stroke-width="0.35">50</text>
<line x1="1460.23" y1="104.6" x2="1460.23" y2="102.8" stroke="#777" stroke-width="1"/>
<line x1="1474.51" y1="104.6" x2="1474.51" y2="102.8" stroke="#777" stroke-width="1"/>
<line x1="1488.78" y1="104.6" x2="1488.78" y2="102.8" stroke="#777" stroke-width="1"/>
<line x1="1503.06" y1="104.6" x2="1503.06" y2="100.4" stroke="#777" stroke-width="1"/>
<text transform="translate(1503.06 96.2) scale(1 1.06)" font-size="9.9" fill="#383838" text-anchor="middle" stroke="#383838" stroke-width="0.35">60</text>
<line x1="1517.34" y1="104.6" x2="1517.34" y2="102.8" stroke="#777" stroke-width="1"/>
<line x1="1531.62" y1="104.6" x2="1531.62" y2="102.8" stroke="#777" stroke-width="1"/>
<line x1="1545.89" y1="104.6" x2="1545.89" y2="102.8" stroke="#777" stroke-width="1"/>
<line x1="1560.17" y1="104.6" x2="1560.17" y2="100.4" stroke="#777" stroke-width="1"/>
<text transform="translate(1560.17 96.2) scale(1 1.06)" font-size="9.9" fill="#383838" text-anchor="middle" stroke="#383838" stroke-width="0.35">70</text>
<line x1="1574.45" y1="104.6" x2="1574.45" y2="102.8" stroke="#777" stroke-width="1"/>
<line x1="1588.72" y1="104.6" x2="1588.72" y2="102.8" stroke="#777" stroke-width="1"/>
<line x1="1603" y1="104.6" x2="1603" y2="102.8" stroke="#777" stroke-width="1"/>
<line x1="1617.28" y1="104.6" x2="1617.28" y2="100.4" stroke="#777" stroke-width="1"/>
<text transform="translate(1617.28 96.2) scale(1 1.06)" font-size="9.9" fill="#383838" text-anchor="middle" stroke="#383838" stroke-width="0.35">80</text>
<line x1="1631.56" y1="104.6" x2="1631.56" y2="102.8" stroke="#777" stroke-width="1"/>
<line x1="1645.84" y1="104.6" x2="1645.84" y2="102.8" stroke="#777" stroke-width="1"/>
<line x1="1660.11" y1="104.6" x2="1660.11" y2="102.8" stroke="#777" stroke-width="1"/>
<line x1="1674.39" y1="104.6" x2="1674.39" y2="100.4" stroke="#777" stroke-width="1"/>
<text transform="translate(1674.39 96.2) scale(1 1.06)" font-size="9.9" fill="#383838" text-anchor="middle" stroke="#383838" stroke-width="0.35">90</text>
<line x1="1688.67" y1="104.6" x2="1688.67" y2="102.8" stroke="#777" stroke-width="1"/>
<line x1="1702.94" y1="104.6" x2="1702.94" y2="102.8" stroke="#777" stroke-width="1"/>
<line x1="1717.22" y1="104.6" x2="1717.22" y2="102.8" stroke="#777" stroke-width="1"/>
<line x1="1731.5" y1="104.6" x2="1731.5" y2="100.4" stroke="#777" stroke-width="1"/>
<text transform="translate(1731.5 96.2) scale(1 1.06)" font-size="9.9" fill="#383838" text-anchor="middle" stroke="#383838" stroke-width="0.35">100</text>
<line x1="1160.4" y1="215.6" x2="1731.5" y2="215.6" stroke="#3c3c3c" stroke-width="1.5"/>
<line x1="1160.4" y1="215.6" x2="1160.4" y2="218.6" stroke="#777" stroke-width="1"/>
<text transform="translate(1160.4 231.8) scale(1 1.06)" font-size="9.9" fill="#383838" text-anchor="middle" stroke="#383838" stroke-width="0.35">5.2</text>
<line x1="1201.19" y1="215.6" x2="1201.19" y2="218.6" stroke="#777" stroke-width="1"/>
<text transform="translate(1201.19 231.8) scale(1 1.06)" font-size="9.9" fill="#383838" text-anchor="middle" stroke="#383838" stroke-width="0.35">5.4</text>
<line x1="1241.99" y1="215.6" x2="1241.99" y2="218.6" stroke="#777" stroke-width="1"/>
<text transform="translate(1241.99 231.8) scale(1 1.06)" font-size="9.9" fill="#383838" text-anchor="middle" stroke="#383838" stroke-width="0.35">5.6</text>
<line x1="1282.78" y1="215.6" x2="1282.78" y2="218.6" stroke="#777" stroke-width="1"/>
<text transform="translate(1282.78 231.8) scale(1 1.06)" font-size="9.9" fill="#383838" text-anchor="middle" stroke="#383838" stroke-width="0.35">5.8</text>
<line x1="1323.57" y1="215.6" x2="1323.57" y2="218.6" stroke="#777" stroke-width="1"/>
<text transform="translate(1323.57 231.8) scale(1 1.06)" font-size="9.9" fill="#383838" text-anchor="middle" stroke="#383838" stroke-width="0.35">6</text>
<line x1="1364.36" y1="215.6" x2="1364.36" y2="218.6" stroke="#777" stroke-width="1"/>
<text transform="translate(1364.36 231.8) scale(1 1.06)" font-size="9.9" fill="#383838" text-anchor="middle" stroke="#383838" stroke-width="0.35">6.2</text>
<line x1="1405.16" y1="215.6" x2="1405.16" y2="218.6" stroke="#777" stroke-width="1"/>
<text transform="translate(1405.16 231.8) scale(1 1.06)" font-size="9.9" fill="#383838" text-anchor="middle" stroke="#383838" stroke-width="0.35">6.4</text>
<line x1="1445.95" y1="215.6" x2="1445.95" y2="218.6" stroke="#777" stroke-width="1"/>
<text transform="translate(1445.95 231.8) scale(1 1.06)" font-size="9.9" fill="#383838" text-anchor="middle" stroke="#383838" stroke-width="0.35">6.6</text>
<line x1="1486.74" y1="215.6" x2="1486.74" y2="218.6" stroke="#777" stroke-width="1"/>
<text transform="translate(1486.74 231.8) scale(1 1.06)" font-size="9.9" fill="#383838" text-anchor="middle" stroke="#383838" stroke-width="0.35">6.8</text>
<line x1="1527.54" y1="215.6" x2="1527.54" y2="218.6" stroke="#777" stroke-width="1"/>
<text transform="translate(1527.54 231.8) scale(1 1.06)" font-size="9.9" fill="#383838" text-anchor="middle" stroke="#383838" stroke-width="0.35">7</text>
<line x1="1568.33" y1="215.6" x2="1568.33" y2="218.6" stroke="#777" stroke-width="1"/>
<text transform="translate(1568.33 231.8) scale(1 1.06)" font-size="9.9" fill="#383838" text-anchor="middle" stroke="#383838" stroke-width="0.35">7.2</text>
<line x1="1609.12" y1="215.6" x2="1609.12" y2="218.6" stroke="#777" stroke-width="1"/>
<text transform="translate(1609.12 231.8) scale(1 1.06)" font-size="9.9" fill="#383838" text-anchor="middle" stroke="#383838" stroke-width="0.35">7.4</text>
<line x1="1649.91" y1="215.6" x2="1649.91" y2="218.6" stroke="#777" stroke-width="1"/>
<text transform="translate(1649.91 231.8) scale(1 1.06)" font-size="9.9" fill="#383838" text-anchor="middle" stroke="#383838" stroke-width="0.35">7.6</text>
<line x1="1690.71" y1="215.6" x2="1690.71" y2="218.6" stroke="#777" stroke-width="1"/>
<text transform="translate(1690.71 231.8) scale(1 1.06)" font-size="9.9" fill="#383838" text-anchor="middle" stroke="#383838" stroke-width="0.35">7.8</text>
<line x1="1731.5" y1="215.6" x2="1731.5" y2="218.6" stroke="#777" stroke-width="1"/>
<text transform="translate(1731.5 231.8) scale(1 1.06)" font-size="9.9" fill="#383838" text-anchor="middle" stroke="#383838" stroke-width="0.35">8</text>
<line x1="1160.4" y1="326.8" x2="1511.2" y2="326.8" stroke="#555" stroke-width="1.2"/>
<line x1="1160.4" y1="326.8" x2="1160.4" y2="330.3" stroke="#555" stroke-width="1"/>
<text transform="translate(1160.4 343) scale(1 1.06)" font-size="9.9" fill="#383838" text-anchor="middle" stroke="#383838" stroke-width="0.35">8.8</text>
<line x1="1199.38" y1="326.8" x2="1199.38" y2="330.3" stroke="#555" stroke-width="1"/>
<text transform="translate(1199.38 343) scale(1 1.06)" font-size="9.9" fill="#383838" text-anchor="middle" stroke="#383838" stroke-width="0.35">8.6</text>
<line x1="1238.36" y1="326.8" x2="1238.36" y2="330.3" stroke="#555" stroke-width="1"/>
<text transform="translate(1238.36 343) scale(1 1.06)" font-size="9.9" fill="#383838" text-anchor="middle" stroke="#383838" stroke-width="0.35">8.4</text>
<line x1="1277.33" y1="326.8" x2="1277.33" y2="330.3" stroke="#555" stroke-width="1"/>
<text transform="translate(1277.33 343) scale(1 1.06)" font-size="9.9" fill="#383838" text-anchor="middle" stroke="#383838" stroke-width="0.35">8.2</text>
<line x1="1316.31" y1="326.8" x2="1316.31" y2="330.3" stroke="#555" stroke-width="1"/>
<text transform="translate(1316.31 343) scale(1 1.06)" font-size="9.9" fill="#383838" text-anchor="middle" stroke="#383838" stroke-width="0.35">8</text>
<line x1="1355.29" y1="326.8" x2="1355.29" y2="330.3" stroke="#555" stroke-width="1"/>
<text transform="translate(1355.29 343) scale(1 1.06)" font-size="9.9" fill="#383838" text-anchor="middle" stroke="#383838" stroke-width="0.35">7.8</text>
<line x1="1394.27" y1="326.8" x2="1394.27" y2="330.3" stroke="#555" stroke-width="1"/>
<text transform="translate(1394.27 343) scale(1 1.06)" font-size="9.9" fill="#383838" text-anchor="middle" stroke="#383838" stroke-width="0.35">7.6</text>
<line x1="1433.24" y1="326.8" x2="1433.24" y2="330.3" stroke="#555" stroke-width="1"/>
<text transform="translate(1433.24 343) scale(1 1.06)" font-size="9.9" fill="#383838" text-anchor="middle" stroke="#383838" stroke-width="0.35">7.4</text>
<line x1="1472.22" y1="326.8" x2="1472.22" y2="330.3" stroke="#555" stroke-width="1"/>
<text transform="translate(1472.22 343) scale(1 1.06)" font-size="9.9" fill="#383838" text-anchor="middle" stroke="#383838" stroke-width="0.35">7.2</text>
<line x1="1511.2" y1="326.8" x2="1511.2" y2="330.3" stroke="#555" stroke-width="1"/>
<text transform="translate(1511.2 343) scale(1 1.06)" font-size="9.9" fill="#383838" text-anchor="middle" stroke="#383838" stroke-width="0.35">7</text>
<line x1="1160.4" y1="437.2" x2="1731.5" y2="437.2" stroke="#666" stroke-width="1.2"/>
<line x1="1160.4" y1="437.2" x2="1160.4" y2="441.4" stroke="#666" stroke-width="1"/>
<text transform="translate(1160.4 453.7) scale(1 1.06)" font-size="9.9" fill="#383838" text-anchor="middle" stroke="#383838" stroke-width="0.35">0</text>
<line x1="1174.68" y1="437.2" x2="1174.68" y2="439.4" stroke="#666" stroke-width="1"/>
<line x1="1188.96" y1="437.2" x2="1188.96" y2="439.4" stroke="#666" stroke-width="1"/>
<line x1="1203.23" y1="437.2" x2="1203.23" y2="439.4" stroke="#666" stroke-width="1"/>
<line x1="1217.51" y1="437.2" x2="1217.51" y2="439.4" stroke="#666" stroke-width="1"/>
<line x1="1231.79" y1="437.2" x2="1231.79" y2="441.4" stroke="#666" stroke-width="1"/>
<text transform="translate(1231.79 453.7) scale(1 1.06)" font-size="9.9" fill="#383838" text-anchor="middle" stroke="#383838" stroke-width="0.35">20</text>
<line x1="1246.07" y1="437.2" x2="1246.07" y2="439.4" stroke="#666" stroke-width="1"/>
<line x1="1260.34" y1="437.2" x2="1260.34" y2="439.4" stroke="#666" stroke-width="1"/>
<line x1="1274.62" y1="437.2" x2="1274.62" y2="439.4" stroke="#666" stroke-width="1"/>
<line x1="1288.9" y1="437.2" x2="1288.9" y2="439.4" stroke="#666" stroke-width="1"/>
<line x1="1303.18" y1="437.2" x2="1303.18" y2="441.4" stroke="#666" stroke-width="1"/>
<text transform="translate(1303.18 453.7) scale(1 1.06)" font-size="9.9" fill="#383838" text-anchor="middle" stroke="#383838" stroke-width="0.35">40</text>
<line x1="1317.45" y1="437.2" x2="1317.45" y2="439.4" stroke="#666" stroke-width="1"/>
<line x1="1331.73" y1="437.2" x2="1331.73" y2="439.4" stroke="#666" stroke-width="1"/>
<line x1="1346.01" y1="437.2" x2="1346.01" y2="439.4" stroke="#666" stroke-width="1"/>
<line x1="1360.29" y1="437.2" x2="1360.29" y2="439.4" stroke="#666" stroke-width="1"/>
<line x1="1374.56" y1="437.2" x2="1374.56" y2="441.4" stroke="#666" stroke-width="1"/>
<text transform="translate(1374.56 453.7) scale(1 1.06)" font-size="9.9" fill="#383838" text-anchor="middle" stroke="#383838" stroke-width="0.35">60</text>
<line x1="1388.84" y1="437.2" x2="1388.84" y2="439.4" stroke="#666" stroke-width="1"/>
<line x1="1403.12" y1="437.2" x2="1403.12" y2="439.4" stroke="#666" stroke-width="1"/>
<line x1="1417.39" y1="437.2" x2="1417.39" y2="439.4" stroke="#666" stroke-width="1"/>
<line x1="1431.67" y1="437.2" x2="1431.67" y2="439.4" stroke="#666" stroke-width="1"/>
<line x1="1445.95" y1="437.2" x2="1445.95" y2="441.4" stroke="#666" stroke-width="1"/>
<text transform="translate(1445.95 453.7) scale(1 1.06)" font-size="9.9" fill="#383838" text-anchor="middle" stroke="#383838" stroke-width="0.35">80</text>
<line x1="1460.23" y1="437.2" x2="1460.23" y2="439.4" stroke="#666" stroke-width="1"/>
<line x1="1474.51" y1="437.2" x2="1474.51" y2="439.4" stroke="#666" stroke-width="1"/>
<line x1="1488.78" y1="437.2" x2="1488.78" y2="439.4" stroke="#666" stroke-width="1"/>
<line x1="1503.06" y1="437.2" x2="1503.06" y2="439.4" stroke="#666" stroke-width="1"/>
<line x1="1517.34" y1="437.2" x2="1517.34" y2="441.4" stroke="#666" stroke-width="1"/>
<text transform="translate(1517.34 453.7) scale(1 1.06)" font-size="9.9" fill="#383838" text-anchor="middle" stroke="#383838" stroke-width="0.35">100</text>
<line x1="1531.62" y1="437.2" x2="1531.62" y2="439.4" stroke="#666" stroke-width="1"/>
<line x1="1545.89" y1="437.2" x2="1545.89" y2="439.4" stroke="#666" stroke-width="1"/>
<line x1="1560.17" y1="437.2" x2="1560.17" y2="439.4" stroke="#666" stroke-width="1"/>
<line x1="1574.45" y1="437.2" x2="1574.45" y2="439.4" stroke="#666" stroke-width="1"/>
<line x1="1588.72" y1="437.2" x2="1588.72" y2="441.4" stroke="#666" stroke-width="1"/>
<text transform="translate(1588.72 453.7) scale(1 1.06)" font-size="9.9" fill="#383838" text-anchor="middle" stroke="#383838" stroke-width="0.35">120</text>
<line x1="1603" y1="437.2" x2="1603" y2="439.4" stroke="#666" stroke-width="1"/>
<line x1="1617.28" y1="437.2" x2="1617.28" y2="439.4" stroke="#666" stroke-width="1"/>
<line x1="1631.56" y1="437.2" x2="1631.56" y2="439.4" stroke="#666" stroke-width="1"/>
<line x1="1645.84" y1="437.2" x2="1645.84" y2="439.4" stroke="#666" stroke-width="1"/>
<line x1="1660.11" y1="437.2" x2="1660.11" y2="441.4" stroke="#666" stroke-width="1"/>
<text transform="translate(1660.11 453.7) scale(1 1.06)" font-size="9.9" fill="#383838" text-anchor="middle" stroke="#383838" stroke-width="0.35">140</text>
<line x1="1674.39" y1="437.2" x2="1674.39" y2="439.4" stroke="#666" stroke-width="1"/>
<line x1="1688.67" y1="437.2" x2="1688.67" y2="439.4" stroke="#666" stroke-width="1"/>
<line x1="1702.94" y1="437.2" x2="1702.94" y2="439.4" stroke="#666" stroke-width="1"/>
<line x1="1717.22" y1="437.2" x2="1717.22" y2="439.4" stroke="#666" stroke-width="1"/>
<line x1="1731.5" y1="437.2" x2="1731.5" y2="441.4" stroke="#666" stroke-width="1"/>
<text transform="translate(1731.5 453.7) scale(1 1.06)" font-size="9.9" fill="#383838" text-anchor="middle" stroke="#383838" stroke-width="0.35">160</text>
<line x1="1200" y1="548.5" x2="1700.1" y2="548.5" stroke="#4a4a4a" stroke-width="1.2"/>
<line x1="1200" y1="548.5" x2="1200" y2="552.7" stroke="#555" stroke-width="1"/>
<text transform="translate(1200 563.9) scale(1 1.06)" font-size="9.9" fill="#383838" text-anchor="middle" stroke="#383838" stroke-width="0.35">–10</text>
<line x1="1227.78" y1="548.5" x2="1227.78" y2="550.7" stroke="#555" stroke-width="1"/>
<line x1="1255.57" y1="548.5" x2="1255.57" y2="552.7" stroke="#555" stroke-width="1"/>
<text transform="translate(1255.57 563.9) scale(1 1.06)" font-size="9.9" fill="#383838" text-anchor="middle" stroke="#383838" stroke-width="0.35">–8</text>
<line x1="1283.35" y1="548.5" x2="1283.35" y2="550.7" stroke="#555" stroke-width="1"/>
<line x1="1311.13" y1="548.5" x2="1311.13" y2="552.7" stroke="#555" stroke-width="1"/>
<text transform="translate(1311.13 563.9) scale(1 1.06)" font-size="9.9" fill="#383838" text-anchor="middle" stroke="#383838" stroke-width="0.35">–6</text>
<line x1="1338.92" y1="548.5" x2="1338.92" y2="550.7" stroke="#555" stroke-width="1"/>
<line x1="1366.7" y1="548.5" x2="1366.7" y2="552.7" stroke="#555" stroke-width="1"/>
<text transform="translate(1366.7 563.9) scale(1 1.06)" font-size="9.9" fill="#383838" text-anchor="middle" stroke="#383838" stroke-width="0.35">–4</text>
<line x1="1394.48" y1="548.5" x2="1394.48" y2="550.7" stroke="#555" stroke-width="1"/>
<line x1="1422.27" y1="548.5" x2="1422.27" y2="552.7" stroke="#555" stroke-width="1"/>
<text transform="translate(1422.27 563.9) scale(1 1.06)" font-size="9.9" fill="#383838" text-anchor="middle" stroke="#383838" stroke-width="0.35">–2</text>
<line x1="1450.05" y1="548.5" x2="1450.05" y2="550.7" stroke="#555" stroke-width="1"/>
<line x1="1477.83" y1="548.5" x2="1477.83" y2="552.7" stroke="#555" stroke-width="1"/>
<text transform="translate(1477.83 563.9) scale(1 1.06)" font-size="9.9" fill="#383838" text-anchor="middle" stroke="#383838" stroke-width="0.35">0</text>
<line x1="1505.62" y1="548.5" x2="1505.62" y2="550.7" stroke="#555" stroke-width="1"/>
<line x1="1533.4" y1="548.5" x2="1533.4" y2="552.7" stroke="#555" stroke-width="1"/>
<text transform="translate(1533.4 563.9) scale(1 1.06)" font-size="9.9" fill="#383838" text-anchor="middle" stroke="#383838" stroke-width="0.35">2</text>
<line x1="1561.18" y1="548.5" x2="1561.18" y2="550.7" stroke="#555" stroke-width="1"/>
<line x1="1588.97" y1="548.5" x2="1588.97" y2="552.7" stroke="#555" stroke-width="1"/>
<text transform="translate(1588.97 563.9) scale(1 1.06)" font-size="9.9" fill="#383838" text-anchor="middle" stroke="#383838" stroke-width="0.35">4</text>
<line x1="1616.75" y1="548.5" x2="1616.75" y2="550.7" stroke="#555" stroke-width="1"/>
<line x1="1644.53" y1="548.5" x2="1644.53" y2="552.7" stroke="#555" stroke-width="1"/>
<text transform="translate(1644.53 563.9) scale(1 1.06)" font-size="9.9" fill="#383838" text-anchor="middle" stroke="#383838" stroke-width="0.35">6</text>
<line x1="1672.32" y1="548.5" x2="1672.32" y2="550.7" stroke="#555" stroke-width="1"/>
<line x1="1700.1" y1="548.5" x2="1700.1" y2="552.7" stroke="#555" stroke-width="1"/>
<text transform="translate(1700.1 563.9) scale(1 1.06)" font-size="9.9" fill="#383838" text-anchor="middle" stroke="#383838" stroke-width="0.35">8</text>
<line x1="1350.17" y1="658.7" x2="1605.5" y2="658.7" stroke="#7c7c7c" stroke-width="1.3"/>
<line x1="1350.17" y1="658.7" x2="1350.17" y2="662.7" stroke="#888" stroke-width="1"/>
<text transform="translate(1350.17 675.3) scale(1 1.06)" font-size="9.9" fill="#383838" text-anchor="middle" stroke="#383838" stroke-width="0.35">0.01</text>
<line x1="1416.79" y1="658.7" x2="1416.79" y2="662.7" stroke="#888" stroke-width="1"/>
<text transform="translate(1416.79 675.3) scale(1 1.06)" font-size="9.9" fill="#383838" text-anchor="middle" stroke="#383838" stroke-width="0.35">0.1</text>
<line x1="1477.83" y1="658.7" x2="1477.83" y2="662.7" stroke="#888" stroke-width="1"/>
<text transform="translate(1477.83 675.3) scale(1 1.06)" font-size="9.9" fill="#383838" text-anchor="middle" stroke="#383838" stroke-width="0.35">0.5</text>
<line x1="1538.88" y1="658.7" x2="1538.88" y2="662.7" stroke="#888" stroke-width="1"/>
<text transform="translate(1538.88 675.3) scale(1 1.06)" font-size="9.9" fill="#383838" text-anchor="middle" stroke="#383838" stroke-width="0.35">0.9</text>
<line x1="1605.5" y1="658.7" x2="1605.5" y2="662.7" stroke="#888" stroke-width="1"/>
<text transform="translate(1605.5 675.3) scale(1 1.06)" font-size="9.9" fill="#383838" text-anchor="middle" stroke="#383838" stroke-width="0.35">0.99</text>
</g>
<g id="panel-c">
<rect x="126" y="766" width="593" height="668.5" fill="#fff"/>
<line x1="219.07" y1="766" x2="219.07" y2="1434.5" stroke="#f1f1f1" stroke-width="1.1"/>
<line x1="354.42" y1="766" x2="354.42" y2="1434.5" stroke="#f1f1f1" stroke-width="1.1"/>
<line x1="489.77" y1="766" x2="489.77" y2="1434.5" stroke="#f1f1f1" stroke-width="1.1"/>
<line x1="625.12" y1="766" x2="625.12" y2="1434.5" stroke="#f1f1f1" stroke-width="1.1"/>
<line x1="126" y1="843.42" x2="719" y2="843.42" stroke="#f1f1f1" stroke-width="1.1"/>
<line x1="126" y1="1000.77" x2="719" y2="1000.77" stroke="#f1f1f1" stroke-width="1.1"/>
<line x1="126" y1="1158.12" x2="719" y2="1158.12" stroke="#f1f1f1" stroke-width="1.1"/>
<line x1="126" y1="1315.47" x2="719" y2="1315.47" stroke="#f1f1f1" stroke-width="1.1"/>
<line x1="151.4" y1="766" x2="151.4" y2="1434.5" stroke="#eaeaea" stroke-width="1.9"/>
<line x1="286.75" y1="766" x2="286.75" y2="1434.5" stroke="#eaeaea" stroke-width="1.9"/>
<line x1="422.1" y1="766" x2="422.1" y2="1434.5" stroke="#eaeaea" stroke-width="1.9"/>
<line x1="557.45" y1="766" x2="557.45" y2="1434.5" stroke="#eaeaea" stroke-width="1.9"/>
<line x1="692.8" y1="766" x2="692.8" y2="1434.5" stroke="#eaeaea" stroke-width="1.9"/>
<line x1="126" y1="922.1" x2="719" y2="922.1" stroke="#eaeaea" stroke-width="1.9"/>
<line x1="126" y1="1079.45" x2="719" y2="1079.45" stroke="#eaeaea" stroke-width="1.9"/>
<line x1="126" y1="1236.8" x2="719" y2="1236.8" stroke="#eaeaea" stroke-width="1.9"/>
<line x1="126" y1="1394.15" x2="719" y2="1394.15" stroke="#eaeaea" stroke-width="1.9"/>
<polyline points="153.02,858.34 177.22,868.1 193.67,871.9 215.19,878.73 220.25,878.99 230.38,881.27 235.44,881.27 254.43,886.33 262.03,886.58 278.48,891.39 292.41,894.68 300.51,905.32 303.04,903.54 312.66,903.54 313.92,911.9 327.85,923.8 331.65,933.42 346.84,937.72 360.76,941.01 374.68,941.27 393.67,943.54 416,959 432,976 462,1002 489.4,1031.4 493,1041 495.6,1053.6 499.4,1042.4 502.6,1053.6 526,1060 527,1070 529,1054 539,1044.4 565.4,1080.6 568,1058 574.4,1037.6 583.6,1054 583.6,1062 588,1073 591,1092 591,1108 609,1149 609,1158 615.4,1177 623,1208 626,1230 626,1249 637,1289 638,1303 638,1238 639.6,1171 647.4,1191 648,1107.6 652,1115 653.6,1122 657.4,1131 666,1138 671,1145.6 679,1153.6 679.4,1183.6 687.4,1191 689,1204 690,1222.4 692,1228.6" fill="none" stroke="#6fb6d2" stroke-width="3.5" stroke-linejoin="round" stroke-linecap="butt"/>
<polyline points="153.02,858.34 157.4,860.39 161.78,862.48 166.16,864.6 170.54,866.75 174.92,868.95 179.3,871.18 183.67,873.45 188.05,875.75 192.43,878.1 196.81,880.49 201.19,882.92 205.57,885.4 209.95,887.92 214.32,890.49 218.7,893.1 223.08,895.77 227.46,898.48 231.84,901.24 236.22,904.06 240.6,906.93 244.97,909.86 249.35,912.85 253.73,915.9 258.11,919 262.49,922.17 266.87,925.41 271.25,928.71 275.62,932.09 280,935.53 284.38,939.05 288.76,942.64 293.14,946.31 297.52,950.07 301.9,953.91 306.27,957.83 310.65,961.85 315.03,965.96 319.41,970.16 323.79,974.46 328.17,978.87 332.55,983.39 336.92,988.01 341.3,992.75 345.68,997.62 350.06,1002.6 354.44,1007.71 358.82,1012.96 363.2,1018.35 367.57,1023.88 371.95,1029.57 376.33,1035.41 380.71,1041.41 385.09,1047.59 389.47,1053.94 393.85,1060.48 398.22,1067.22 402.6,1074.15 406.98,1081.31 411.36,1088.68 415.74,1096.28 420.12,1104.13 424.5,1112.24 428.87,1120.62 433.25,1129.27 437.63,1138.23 442.01,1147.5 446.39,1157.09 450.77,1167.04 455.15,1177.35 459.52,1188.05 463.9,1199.15 468.28,1210.7 472.66,1222.69 477.04,1235.18 481.42,1248.19 485.8,1261.74 490.17,1275.88 494.55,1290.64 498.93,1306.07 503.31,1322.22" fill="none" stroke="#c7442f" stroke-width="3.5" stroke-linejoin="round" stroke-linecap="butt"/>
<polyline points="152,1236.95 692.1,1236.95" fill="none" stroke="#42508a" stroke-width="3.3" stroke-linejoin="round" stroke-linecap="butt"/>
<line x1="126" y1="766" x2="126" y2="1434.5" stroke="#8a8a8a" stroke-width="1.9" stroke-linecap="square"/>
<line x1="126" y1="766" x2="719" y2="766" stroke="#8a8a8a" stroke-width="1.9" stroke-linecap="square"/>
<line x1="719" y1="766" x2="719" y2="1434.5" stroke="#a2a2a2" stroke-width="1.9" stroke-linecap="square"/>
<line x1="126" y1="1434.5" x2="719" y2="1434.5" stroke="#444" stroke-width="1.3" stroke-linecap="square"/>
<line x1="151.4" y1="1434.5" x2="151.4" y2="1439.1" stroke="#3a3a3a" stroke-width="1.3"/>
<text x="151.4" y="1454.4" font-size="15.2" fill="#5c5c5c" text-anchor="middle" stroke="#5c5c5c" stroke-width="0.3">0.00</text>
<line x1="286.75" y1="1434.5" x2="286.75" y2="1439.1" stroke="#3a3a3a" stroke-width="1.3"/>
<text x="286.75" y="1454.4" font-size="15.2" fill="#5c5c5c" text-anchor="middle" stroke="#5c5c5c" stroke-width="0.3">0.25</text>
<line x1="422.1" y1="1434.5" x2="422.1" y2="1439.1" stroke="#3a3a3a" stroke-width="1.3"/>
<text x="422.1" y="1454.4" font-size="15.2" fill="#5c5c5c" text-anchor="middle" stroke="#5c5c5c" stroke-width="0.3">0.50</text>
<line x1="557.45" y1="1434.5" x2="557.45" y2="1439.1" stroke="#3a3a3a" stroke-width="1.3"/>
<text x="557.45" y="1454.4" font-size="15.2" fill="#5c5c5c" text-anchor="middle" stroke="#5c5c5c" stroke-width="0.3">0.75</text>
<line x1="692.8" y1="1434.5" x2="692.8" y2="1439.1" stroke="#3a3a3a" stroke-width="1.3"/>
<text x="692.8" y="1454.4" font-size="15.2" fill="#5c5c5c" text-anchor="middle" stroke="#5c5c5c" stroke-width="0.3">1.00</text>
<line x1="121.4" y1="922.1" x2="126" y2="922.1" stroke="#3a3a3a" stroke-width="1.3"/>
<text x="117" y="927.54" font-size="15.2" fill="#5c5c5c" text-anchor="end" stroke="#5c5c5c" stroke-width="0.3">0.50</text>
<line x1="121.4" y1="1079.45" x2="126" y2="1079.45" stroke="#3a3a3a" stroke-width="1.3"/>
<text x="117" y="1084.89" font-size="15.2" fill="#5c5c5c" text-anchor="end" stroke="#5c5c5c" stroke-width="0.3">0.25</text>
<line x1="121.4" y1="1236.8" x2="126" y2="1236.8" stroke="#3a3a3a" stroke-width="1.3"/>
<text x="117" y="1242.24" font-size="15.2" fill="#5c5c5c" text-anchor="end" stroke="#5c5c5c" stroke-width="0.3">0.00</text>
<line x1="121.4" y1="1394.15" x2="126" y2="1394.15" stroke="#3a3a3a" stroke-width="1.3"/>
<text x="117" y="1399.59" font-size="15.2" fill="#5c5c5c" text-anchor="end" stroke="#5c5c5c" stroke-width="0.3">−0.25</text>
<text x="422" y="1474.8" font-size="18.7" fill="#1a1a1a" text-anchor="middle" stroke="#1a1a1a" stroke-width="0.3">Risk Threshold</text>
<text x="69.4" y="1100" font-size="18.7" fill="#1a1a1a" text-anchor="middle" transform="rotate(-90 69.4 1100)" stroke="#1a1a1a" stroke-width="0.3">Net Benefit</text>
<line x1="750" y1="1077.9" x2="773.4" y2="1077.9" stroke="#6fb6d2" stroke-width="3.6"/>
<text x="785.2" y="1083.1" font-size="15.2" fill="#1a1a1a" text-anchor="start" stroke="#1a1a1a" stroke-width="0.3">Logistic Model</text>
<line x1="750" y1="1107.1" x2="773.4" y2="1107.1" stroke="#c7442f" stroke-width="3.6"/>
<text x="785.2" y="1112.4" font-size="15.2" fill="#1a1a1a" text-anchor="start" stroke="#1a1a1a" stroke-width="0.3">All</text>
<line x1="750" y1="1136.4" x2="773.4" y2="1136.4" stroke="#42508a" stroke-width="3.6"/>
<text x="785.2" y="1141.7" font-size="15.2" fill="#1a1a1a" text-anchor="start" stroke="#1a1a1a" stroke-width="0.3">None</text>
</g>
<g id="panel-d">
<rect x="1002" y="766.05" width="603" height="670.45" fill="#fff"/>
<line x1="1097.92" y1="766.05" x2="1097.92" y2="1436.5" stroke="#f1f1f1" stroke-width="1.1"/>
<line x1="1235.17" y1="766.05" x2="1235.17" y2="1436.5" stroke="#f1f1f1" stroke-width="1.1"/>
<line x1="1372.42" y1="766.05" x2="1372.42" y2="1436.5" stroke="#f1f1f1" stroke-width="1.1"/>
<line x1="1509.67" y1="766.05" x2="1509.67" y2="1436.5" stroke="#f1f1f1" stroke-width="1.1"/>
<line x1="1002" y1="869.95" x2="1605" y2="869.95" stroke="#f1f1f1" stroke-width="1.1"/>
<line x1="1002" y1="1017.27" x2="1605" y2="1017.27" stroke="#f1f1f1" stroke-width="1.1"/>
<line x1="1002" y1="1164.59" x2="1605" y2="1164.59" stroke="#f1f1f1" stroke-width="1.1"/>
<line x1="1002" y1="1311.91" x2="1605" y2="1311.91" stroke="#f1f1f1" stroke-width="1.1"/>
<line x1="1029.3" y1="766.05" x2="1029.3" y2="1436.5" stroke="#eaeaea" stroke-width="1.9"/>
<line x1="1166.55" y1="766.05" x2="1166.55" y2="1436.5" stroke="#eaeaea" stroke-width="1.9"/>
<line x1="1303.8" y1="766.05" x2="1303.8" y2="1436.5" stroke="#eaeaea" stroke-width="1.9"/>
<line x1="1441.05" y1="766.05" x2="1441.05" y2="1436.5" stroke="#eaeaea" stroke-width="1.9"/>
<line x1="1578.3" y1="766.05" x2="1578.3" y2="1436.5" stroke="#eaeaea" stroke-width="1.9"/>
<line x1="1002" y1="796.29" x2="1605" y2="796.29" stroke="#eaeaea" stroke-width="1.9"/>
<line x1="1002" y1="943.61" x2="1605" y2="943.61" stroke="#eaeaea" stroke-width="1.9"/>
<line x1="1002" y1="1090.93" x2="1605" y2="1090.93" stroke="#eaeaea" stroke-width="1.9"/>
<line x1="1002" y1="1238.25" x2="1605" y2="1238.25" stroke="#eaeaea" stroke-width="1.9"/>
<line x1="1002" y1="1385.57" x2="1605" y2="1385.57" stroke="#eaeaea" stroke-width="1.9"/>
<polyline points="1029.54,845.82 1126.51,887.59 1136.63,888.86 1137.39,906.58 1144.23,905.57 1252.33,962.53 1260.18,957.22 1269.04,938.48 1277.9,959.24 1281.44,978.23 1292.33,1001.01 1299.4,1038.6 1348.4,1057.4 1372.6,1097.4 1374,1115 1392.6,1104.6 1395,1074.6 1404,1047 1405,1064 1412.4,1085 1454.4,1065.4 1467,1090 1502.4,1144.4 1505,1182 1508,1202 1513,1230 1514.6,1249 1517,1220 1524,1123.4 1545,1138 1572.4,1156 1576,1171 1577.4,1190 1577.4,1221" fill="none" stroke="#6fb6d2" stroke-width="3.5" stroke-linejoin="round" stroke-linecap="butt"/>
<polyline points="1029.54,845.82 1060.68,866.84 1093.59,890.89 1127.77,920 1144.23,935.7 1164.48,963.04 1253.09,1080.76 1299,1179 1320,1240 1348.6,1323.6" fill="none" stroke="#c7442f" stroke-width="3.5" stroke-linejoin="round" stroke-linecap="butt"/>
<polyline points="1029.9,1238.4 1577.8,1238.4" fill="none" stroke="#42508a" stroke-width="3.3" stroke-linejoin="round" stroke-linecap="butt"/>
<line x1="1002" y1="766.05" x2="1002" y2="1436.5" stroke="#949494" stroke-width="1.9" stroke-linecap="square"/>
<line x1="1002" y1="766.05" x2="1605" y2="766.05" stroke="#8a8a8a" stroke-width="1.9" stroke-linecap="square"/>
<line x1="1605" y1="766.05" x2="1605" y2="1436.5" stroke="#a2a2a2" stroke-width="1.9" stroke-linecap="square"/>
<line x1="1002" y1="1436.5" x2="1605" y2="1436.5" stroke="#444" stroke-width="1.3" stroke-linecap="square"/>
<line x1="1029.3" y1="1436.5" x2="1029.3" y2="1441.1" stroke="#3a3a3a" stroke-width="1.3"/>
<text x="1029.3" y="1456" font-size="15.2" fill="#5c5c5c" text-anchor="middle" stroke="#5c5c5c" stroke-width="0.3">0.00</text>
<line x1="1166.55" y1="1436.5" x2="1166.55" y2="1441.1" stroke="#3a3a3a" stroke-width="1.3"/>
<text x="1166.55" y="1456" font-size="15.2" fill="#5c5c5c" text-anchor="middle" stroke="#5c5c5c" stroke-width="0.3">0.25</text>
<line x1="1303.8" y1="1436.5" x2="1303.8" y2="1441.1" stroke="#3a3a3a" stroke-width="1.3"/>
<text x="1303.8" y="1456" font-size="15.2" fill="#5c5c5c" text-anchor="middle" stroke="#5c5c5c" stroke-width="0.3">0.50</text>
<line x1="1441.05" y1="1436.5" x2="1441.05" y2="1441.1" stroke="#3a3a3a" stroke-width="1.3"/>
<text x="1441.05" y="1456" font-size="15.2" fill="#5c5c5c" text-anchor="middle" stroke="#5c5c5c" stroke-width="0.3">0.75</text>
<line x1="1578.3" y1="1436.5" x2="1578.3" y2="1441.1" stroke="#3a3a3a" stroke-width="1.3"/>
<text x="1578.3" y="1456" font-size="15.2" fill="#5c5c5c" text-anchor="middle" stroke="#5c5c5c" stroke-width="0.3">1.00</text>
<line x1="997.4" y1="796.29" x2="1002" y2="796.29" stroke="#3a3a3a" stroke-width="1.3"/>
<text x="993.4" y="801.73" font-size="15.2" fill="#5c5c5c" text-anchor="end" stroke="#5c5c5c" stroke-width="0.3">0.6</text>
<line x1="997.4" y1="943.61" x2="1002" y2="943.61" stroke="#3a3a3a" stroke-width="1.3"/>
<text x="993.4" y="949.05" font-size="15.2" fill="#5c5c5c" text-anchor="end" stroke="#5c5c5c" stroke-width="0.3">0.4</text>
<line x1="997.4" y1="1090.93" x2="1002" y2="1090.93" stroke="#3a3a3a" stroke-width="1.3"/>
<text x="993.4" y="1096.37" font-size="15.2" fill="#5c5c5c" text-anchor="end" stroke="#5c5c5c" stroke-width="0.3">0.2</text>
<line x1="997.4" y1="1238.25" x2="1002" y2="1238.25" stroke="#3a3a3a" stroke-width="1.3"/>
<text x="993.4" y="1243.69" font-size="15.2" fill="#5c5c5c" text-anchor="end" stroke="#5c5c5c" stroke-width="0.3">0.0</text>
<line x1="997.4" y1="1385.57" x2="1002" y2="1385.57" stroke="#3a3a3a" stroke-width="1.3"/>
<text x="993.4" y="1391.01" font-size="15.2" fill="#5c5c5c" text-anchor="end" stroke="#5c5c5c" stroke-width="0.3">−0.2</text>
<text x="1303.5" y="1476.8" font-size="18.7" fill="#1a1a1a" text-anchor="middle" stroke="#1a1a1a" stroke-width="0.3">Risk Threshold</text>
<text x="953.6" y="1101" font-size="18.7" fill="#1a1a1a" text-anchor="middle" transform="rotate(-90 953.6 1101)" stroke="#1a1a1a" stroke-width="0.3">Net Benefit</text>
<line x1="1636" y1="1078.9" x2="1659.4" y2="1078.9" stroke="#6fb6d2" stroke-width="3.6"/>
<text x="1671.2" y="1084.1" font-size="15.2" fill="#1a1a1a" text-anchor="start" stroke="#1a1a1a" stroke-width="0.3">Logistic Model</text>
<line x1="1636" y1="1108.1" x2="1659.4" y2="1108.1" stroke="#c7442f" stroke-width="3.6"/>
<text x="1671.2" y="1113.4" font-size="15.2" fill="#1a1a1a" text-anchor="start" stroke="#1a1a1a" stroke-width="0.3">All</text>
<line x1="1636" y1="1137.4" x2="1659.4" y2="1137.4" stroke="#42508a" stroke-width="3.6"/>
<text x="1671.2" y="1142.7" font-size="15.2" fill="#1a1a1a" text-anchor="start" stroke="#1a1a1a" stroke-width="0.3">None</text>
</g>
<g id="panel-e">
<rect x="161.6" y="1563.8" width="538.4" height="539.1" fill="#fff"/>
<line x1="246.89" y1="1563.8" x2="246.89" y2="2102.9" stroke="#f1f1f1" stroke-width="1.0"/>
<line x1="369.46" y1="1563.8" x2="369.46" y2="2102.9" stroke="#f1f1f1" stroke-width="1.0"/>
<line x1="492.04" y1="1563.8" x2="492.04" y2="2102.9" stroke="#f1f1f1" stroke-width="1.0"/>
<line x1="614.61" y1="1563.8" x2="614.61" y2="2102.9" stroke="#f1f1f1" stroke-width="1.0"/>
<line x1="161.6" y1="1649.5" x2="700" y2="1649.5" stroke="#f1f1f1" stroke-width="1.0"/>
<line x1="161.6" y1="1772.1" x2="700" y2="1772.1" stroke="#f1f1f1" stroke-width="1.0"/>
<line x1="161.6" y1="1894.7" x2="700" y2="1894.7" stroke="#f1f1f1" stroke-width="1.0"/>
<line x1="161.6" y1="2017.3" x2="700" y2="2017.3" stroke="#f1f1f1" stroke-width="1.0"/>
<line x1="185.6" y1="1563.8" x2="185.6" y2="2102.9" stroke="#eaeaea" stroke-width="1.6"/>
<line x1="308.17" y1="1563.8" x2="308.17" y2="2102.9" stroke="#eaeaea" stroke-width="1.6"/>
<line x1="430.75" y1="1563.8" x2="430.75" y2="2102.9" stroke="#eaeaea" stroke-width="1.6"/>
<line x1="553.32" y1="1563.8" x2="553.32" y2="2102.9" stroke="#eaeaea" stroke-width="1.6"/>
<line x1="675.9" y1="1563.8" x2="675.9" y2="2102.9" stroke="#eaeaea" stroke-width="1.6"/>
<line x1="161.6" y1="1588.2" x2="700" y2="1588.2" stroke="#eaeaea" stroke-width="1.6"/>
<line x1="161.6" y1="1710.8" x2="700" y2="1710.8" stroke="#eaeaea" stroke-width="1.6"/>
<line x1="161.6" y1="1833.4" x2="700" y2="1833.4" stroke="#eaeaea" stroke-width="1.6"/>
<line x1="161.6" y1="1956" x2="700" y2="1956" stroke="#eaeaea" stroke-width="1.6"/>
<line x1="161.6" y1="2078.6" x2="700" y2="2078.6" stroke="#eaeaea" stroke-width="1.6"/>
<line x1="161.08" y1="2103.12" x2="700.41" y2="1563.68" stroke="#c2c2c2" stroke-width="1.6" stroke-dasharray="5.5 5.5"/>
<polyline points="212.99,2071.15 229.05,2048.37 246.31,2023.34 280.84,1975 308.46,1937.89 332.62,1907.68 349.88,1886.1 375.78,1854.17 400,1822.73 417.26,1803.74 431.07,1791.49 443.16,1781.3 469.05,1762.83 489.76,1749.02 500.12,1740.39 508.75,1736.07 519.11,1732.62 529.47,1733.14 538.1,1734.35 555.36,1721.4 565.72,1712.77 589.88,1687.74 614.91,1659.26 641.67,1629.05 658.93,1610.06 671.88,1595.91" fill="none" stroke="#7cc4e0" stroke-width="1.9" stroke-linejoin="round" stroke-linecap="butt"/>
<polyline points="203.16,2074.26 229.05,2037.15 246.31,2012.98 280.84,1966.37 308.46,1933.57 332.62,1904.23 349.88,1883.51 375.78,1852.44 400,1821 417.26,1803.4 431.07,1791.83 443.16,1782.68 469.05,1766.28 489.76,1752.99 500.12,1744.71 508.75,1740.04 519.11,1736.94 529.47,1737.8 538.1,1739.18 555.36,1726.06 565.72,1717.43 589.88,1692.92 614.91,1665.3 641.67,1634.57 662.39,1610.41 671.88,1602.29" fill="none" stroke="#d2604e" stroke-width="1.9" stroke-linejoin="round" stroke-linecap="butt"/>
<line x1="161.6" y1="1563.8" x2="161.6" y2="2102.9" stroke="#b4b4b4" stroke-width="1.9" stroke-linecap="square"/>
<line x1="161.6" y1="1563.8" x2="700" y2="1563.8" stroke="#9a9a9a" stroke-width="1.8" stroke-linecap="square"/>
<line x1="700" y1="1563.8" x2="700" y2="2102.9" stroke="#9a9a9a" stroke-width="1.7" stroke-linecap="square"/>
<line x1="161.6" y1="2102.9" x2="700" y2="2102.9" stroke="#808080" stroke-width="1.7" stroke-linecap="square"/>
<line x1="185.6" y1="2102.9" x2="185.6" y2="2106.9" stroke="#3a3a3a" stroke-width="1.1"/>
<text x="185.6" y="2118.3" font-size="11.2" fill="#5c5c5c" text-anchor="middle" stroke="#5c5c5c" stroke-width="0.3">0.00</text>
<line x1="308.17" y1="2102.9" x2="308.17" y2="2106.9" stroke="#3a3a3a" stroke-width="1.1"/>
<text x="308.17" y="2118.3" font-size="11.2" fill="#5c5c5c" text-anchor="middle" stroke="#5c5c5c" stroke-width="0.3">0.25</text>
<line x1="430.75" y1="2102.9" x2="430.75" y2="2106.9" stroke="#3a3a3a" stroke-width="1.1"/>
<text x="430.75" y="2118.3" font-size="11.2" fill="#5c5c5c" text-anchor="middle" stroke="#5c5c5c" stroke-width="0.3">0.50</text>
<line x1="553.32" y1="2102.9" x2="553.32" y2="2106.9" stroke="#3a3a3a" stroke-width="1.1"/>
<text x="553.32" y="2118.3" font-size="11.2" fill="#5c5c5c" text-anchor="middle" stroke="#5c5c5c" stroke-width="0.3">0.75</text>
<line x1="675.9" y1="2102.9" x2="675.9" y2="2106.9" stroke="#3a3a3a" stroke-width="1.1"/>
<text x="675.9" y="2118.3" font-size="11.2" fill="#5c5c5c" text-anchor="middle" stroke="#5c5c5c" stroke-width="0.3">1.00</text>
<line x1="157.6" y1="1588.2" x2="161.6" y2="1588.2" stroke="#3a3a3a" stroke-width="1.1"/>
<text x="154" y="1592.21" font-size="11.2" fill="#5c5c5c" text-anchor="end" stroke="#5c5c5c" stroke-width="0.3">1.00</text>
<line x1="157.6" y1="1710.8" x2="161.6" y2="1710.8" stroke="#3a3a3a" stroke-width="1.1"/>
<text x="154" y="1714.81" font-size="11.2" fill="#5c5c5c" text-anchor="end" stroke="#5c5c5c" stroke-width="0.3">0.75</text>
<line x1="157.6" y1="1833.4" x2="161.6" y2="1833.4" stroke="#3a3a3a" stroke-width="1.1"/>
<text x="154" y="1837.41" font-size="11.2" fill="#5c5c5c" text-anchor="end" stroke="#5c5c5c" stroke-width="0.3">0.50</text>
<line x1="157.6" y1="1956" x2="161.6" y2="1956" stroke="#3a3a3a" stroke-width="1.1"/>
<text x="154" y="1960.01" font-size="11.2" fill="#5c5c5c" text-anchor="end" stroke="#5c5c5c" stroke-width="0.3">0.25</text>
<line x1="157.6" y1="2078.6" x2="161.6" y2="2078.6" stroke="#3a3a3a" stroke-width="1.1"/>
<text x="154" y="2082.61" font-size="11.2" fill="#5c5c5c" text-anchor="end" stroke="#5c5c5c" stroke-width="0.3">0.00</text>
<text x="430.9" y="2134.2" font-size="14.0" fill="#1a1a1a" text-anchor="middle" stroke="#1a1a1a" stroke-width="0.3">Predicted Probability</text>
<text x="125.5" y="1833" font-size="14.0" fill="#1a1a1a" text-anchor="middle" transform="rotate(-90 125.5 1833)" stroke="#1a1a1a" stroke-width="0.3">Actual Probability</text>
<line x1="723.6" y1="1822.6" x2="741" y2="1822.6" stroke="#7cc4e0" stroke-width="1.9"/>
<text x="750.2" y="1826.6" font-size="11.3" fill="#1a1a1a" text-anchor="start" stroke="#1a1a1a" stroke-width="0.3">Apparent</text>
<line x1="723.6" y1="1844.6" x2="741" y2="1844.6" stroke="#d2604e" stroke-width="1.9"/>
<text x="750.2" y="1848.6" font-size="11.3" fill="#1a1a1a" text-anchor="start" stroke="#1a1a1a" stroke-width="0.3">Bias Corrected</text>
</g>
<g id="panel-f">
<rect x="1048.8" y="1567.3" width="535.8" height="536.2" fill="#fff"/>
<line x1="1133.77" y1="1567.3" x2="1133.77" y2="2103.5" stroke="#f1f1f1" stroke-width="1.0"/>
<line x1="1255.72" y1="1567.3" x2="1255.72" y2="2103.5" stroke="#f1f1f1" stroke-width="1.0"/>
<line x1="1377.67" y1="1567.3" x2="1377.67" y2="2103.5" stroke="#f1f1f1" stroke-width="1.0"/>
<line x1="1499.62" y1="1567.3" x2="1499.62" y2="2103.5" stroke="#f1f1f1" stroke-width="1.0"/>
<line x1="1048.8" y1="1652.66" x2="1584.6" y2="1652.66" stroke="#f1f1f1" stroke-width="1.0"/>
<line x1="1048.8" y1="1774.59" x2="1584.6" y2="1774.59" stroke="#f1f1f1" stroke-width="1.0"/>
<line x1="1048.8" y1="1896.51" x2="1584.6" y2="1896.51" stroke="#f1f1f1" stroke-width="1.0"/>
<line x1="1048.8" y1="2018.44" x2="1584.6" y2="2018.44" stroke="#f1f1f1" stroke-width="1.0"/>
<line x1="1072.8" y1="1567.3" x2="1072.8" y2="2103.5" stroke="#eaeaea" stroke-width="1.6"/>
<line x1="1194.75" y1="1567.3" x2="1194.75" y2="2103.5" stroke="#eaeaea" stroke-width="1.6"/>
<line x1="1316.7" y1="1567.3" x2="1316.7" y2="2103.5" stroke="#eaeaea" stroke-width="1.6"/>
<line x1="1438.65" y1="1567.3" x2="1438.65" y2="2103.5" stroke="#eaeaea" stroke-width="1.6"/>
<line x1="1560.6" y1="1567.3" x2="1560.6" y2="2103.5" stroke="#eaeaea" stroke-width="1.6"/>
<line x1="1048.8" y1="1591.7" x2="1584.6" y2="1591.7" stroke="#eaeaea" stroke-width="1.6"/>
<line x1="1048.8" y1="1713.62" x2="1584.6" y2="1713.62" stroke="#eaeaea" stroke-width="1.6"/>
<line x1="1048.8" y1="1835.55" x2="1584.6" y2="1835.55" stroke="#eaeaea" stroke-width="1.6"/>
<line x1="1048.8" y1="1957.48" x2="1584.6" y2="1957.48" stroke="#eaeaea" stroke-width="1.6"/>
<line x1="1048.8" y1="2079.4" x2="1584.6" y2="2079.4" stroke="#eaeaea" stroke-width="1.6"/>
<line x1="1048.41" y1="2103.79" x2="1584.99" y2="1567.32" stroke="#c2c2c2" stroke-width="1.6" stroke-dasharray="5.5 5.5"/>
<polyline points="1086.26,2079.44 1109.05,2049.23 1129.76,2021.61 1147.03,2000.03 1171.19,1968.96 1195.36,1940.48 1217.8,1914.58 1247.15,1880.92 1268.72,1857.62 1278.22,1851.06 1287.71,1845.54 1293.45,1839.82 1316.76,1819.45 1350.42,1794.77 1367.68,1781.47 1383.22,1769.39 1393.57,1762.83 1402.2,1759.9 1410.84,1760.76 1421.19,1754.2 1436.73,1740.39 1450.54,1728.31 1462.62,1711.91 1479.88,1686.88 1499.39,1659.26 1519.59,1630.78 1531.67,1615.24 1545.83,1598.32" fill="none" stroke="#7cc4e0" stroke-width="1.9" stroke-linejoin="round" stroke-linecap="butt"/>
<polyline points="1086.61,2069.94 1109.05,2039.74 1126.31,2016.43 1143.57,1993.13 1171.19,1953.42 1195.36,1923.22 1217.8,1896.46 1247.15,1862.8 1268.72,1842.08 1278.22,1836.9 1286.85,1833.45 1296.9,1826.7 1316.76,1810.65 1350.42,1787 1372.86,1771.98 1383.22,1766.28 1391.85,1762.31 1402.2,1759.9 1411.7,1762.83 1421.19,1758.17 1436.73,1746.43 1450.54,1736.42 1462.62,1722.26 1479.88,1698.96 1499.39,1673.93 1519.59,1648.04 1531.67,1633.36 1555.32,1605.4" fill="none" stroke="#d2604e" stroke-width="1.9" stroke-linejoin="round" stroke-linecap="butt"/>
<line x1="1048.8" y1="1567.3" x2="1048.8" y2="2103.5" stroke="#b4b4b4" stroke-width="1.9" stroke-linecap="square"/>
<line x1="1048.8" y1="1567.3" x2="1584.6" y2="1567.3" stroke="#9a9a9a" stroke-width="1.8" stroke-linecap="square"/>
<line x1="1584.6" y1="1567.3" x2="1584.6" y2="2103.5" stroke="#a4a4a4" stroke-width="1.8" stroke-linecap="square"/>
<line x1="1048.8" y1="2103.5" x2="1584.6" y2="2103.5" stroke="#666" stroke-width="1.4" stroke-linecap="square"/>
<line x1="1072.8" y1="2103.5" x2="1072.8" y2="2107.5" stroke="#3a3a3a" stroke-width="1.1"/>
<text x="1072.8" y="2118.9" font-size="11.2" fill="#5c5c5c" text-anchor="middle" stroke="#5c5c5c" stroke-width="0.3">0.00</text>
<line x1="1194.75" y1="2103.5" x2="1194.75" y2="2107.5" stroke="#3a3a3a" stroke-width="1.1"/>
<text x="1194.75" y="2118.9" font-size="11.2" fill="#5c5c5c" text-anchor="middle" stroke="#5c5c5c" stroke-width="0.3">0.25</text>
<line x1="1316.7" y1="2103.5" x2="1316.7" y2="2107.5" stroke="#3a3a3a" stroke-width="1.1"/>
<text x="1316.7" y="2118.9" font-size="11.2" fill="#5c5c5c" text-anchor="middle" stroke="#5c5c5c" stroke-width="0.3">0.50</text>
<line x1="1438.65" y1="2103.5" x2="1438.65" y2="2107.5" stroke="#3a3a3a" stroke-width="1.1"/>
<text x="1438.65" y="2118.9" font-size="11.2" fill="#5c5c5c" text-anchor="middle" stroke="#5c5c5c" stroke-width="0.3">0.75</text>
<line x1="1560.6" y1="2103.5" x2="1560.6" y2="2107.5" stroke="#3a3a3a" stroke-width="1.1"/>
<text x="1560.6" y="2118.9" font-size="11.2" fill="#5c5c5c" text-anchor="middle" stroke="#5c5c5c" stroke-width="0.3">1.00</text>
<line x1="1044.8" y1="1591.7" x2="1048.8" y2="1591.7" stroke="#3a3a3a" stroke-width="1.1"/>
<text x="1041.3" y="1595.71" font-size="11.2" fill="#5c5c5c" text-anchor="end" stroke="#5c5c5c" stroke-width="0.3">1.00</text>
<line x1="1044.8" y1="1713.62" x2="1048.8" y2="1713.62" stroke="#3a3a3a" stroke-width="1.1"/>
<text x="1041.3" y="1717.63" font-size="11.2" fill="#5c5c5c" text-anchor="end" stroke="#5c5c5c" stroke-width="0.3">0.75</text>
<line x1="1044.8" y1="1835.55" x2="1048.8" y2="1835.55" stroke="#3a3a3a" stroke-width="1.1"/>
<text x="1041.3" y="1839.56" font-size="11.2" fill="#5c5c5c" text-anchor="end" stroke="#5c5c5c" stroke-width="0.3">0.50</text>
<line x1="1044.8" y1="1957.48" x2="1048.8" y2="1957.48" stroke="#3a3a3a" stroke-width="1.1"/>
<text x="1041.3" y="1961.48" font-size="11.2" fill="#5c5c5c" text-anchor="end" stroke="#5c5c5c" stroke-width="0.3">0.25</text>
<line x1="1044.8" y1="2079.4" x2="1048.8" y2="2079.4" stroke="#3a3a3a" stroke-width="1.1"/>
<text x="1041.3" y="2083.41" font-size="11.2" fill="#5c5c5c" text-anchor="end" stroke="#5c5c5c" stroke-width="0.3">0.00</text>
<text x="1316.6" y="2134.6" font-size="14.0" fill="#1a1a1a" text-anchor="middle" stroke="#1a1a1a" stroke-width="0.3">Predicted Probability</text>
<text x="1013" y="1835" font-size="14.0" fill="#1a1a1a" text-anchor="middle" transform="rotate(-90 1013 1835)" stroke="#1a1a1a" stroke-width="0.3">Actual Probability</text>
<line x1="1608.4" y1="1824.9" x2="1625.8" y2="1824.9" stroke="#7cc4e0" stroke-width="1.9"/>
<text x="1634" y="1828.9" font-size="11.3" fill="#1a1a1a" text-anchor="start" stroke="#1a1a1a" stroke-width="0.3">Apparent</text>
<line x1="1608.4" y1="1846.8" x2="1625.8" y2="1846.8" stroke="#d2604e" stroke-width="1.9"/>
<text x="1634" y="1850.8" font-size="11.3" fill="#1a1a1a" text-anchor="start" stroke="#1a1a1a" stroke-width="0.3">Bias Corrected</text>
</g>
<g id="letters">
<text x="2.6" y="42.4" font-size="57" fill="#000" text-anchor="start">A</text>
<text x="895" y="42.4" font-size="57" fill="#000" text-anchor="start">B</text>
<text x="1.2" y="779" font-size="57" fill="#000" text-anchor="start">C</text>
<text x="894.2" y="778.4" font-size="57" fill="#000" text-anchor="start">D</text>
<text x="2.2" y="1506.5" font-size="57" fill="#000" text-anchor="start">E</text>
<text x="896.8" y="1506.3" font-size="57" fill="#000" text-anchor="start">F</text>
</g>
</svg>
</body>
</html>
